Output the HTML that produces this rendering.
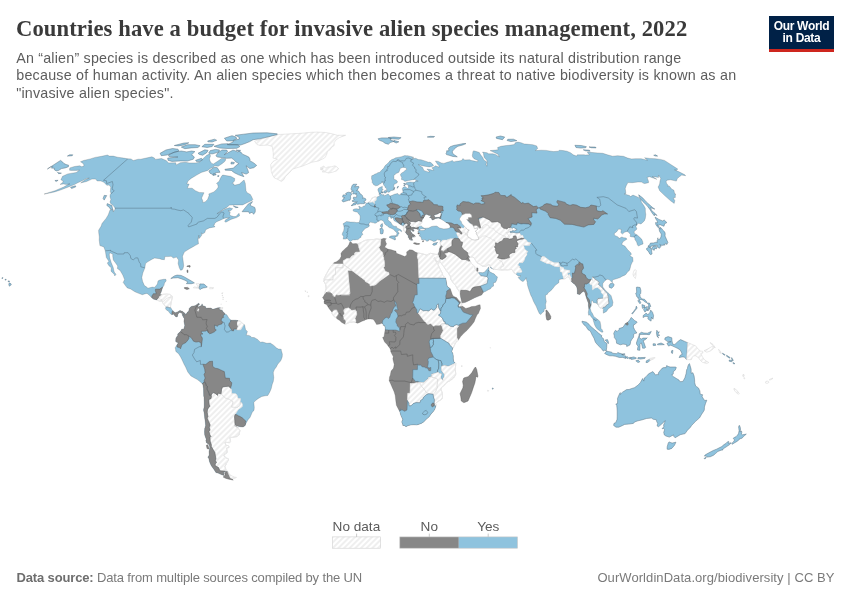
<!DOCTYPE html>
<html lang="en"><head><meta charset="utf-8"><title>Countries have a budget for invasive alien species management, 2022</title>
<style>
html,body{margin:0;padding:0;background:#fff}
body{width:850px;height:600px;position:relative;overflow:hidden;font-family:"Liberation Sans",Arial,sans-serif}
.t{position:absolute;white-space:nowrap;margin:0;padding:0}
#title{left:16px;top:15.2px;font-family:"Liberation Serif","Times New Roman",serif;font-weight:700;font-size:22.6px;line-height:28px;color:#3a3a3a;letter-spacing:0.116px}
.sub{left:16.2px;font-size:14.3px;line-height:18px;color:#5d5d5d;letter-spacing:0.2px}
#s1{top:48.5px}#s2{top:66.3px;letter-spacing:0.237px}#s3{top:84.1px}
#logo{position:absolute;left:769px;top:16px;width:65px;height:36px;background:#002147;border-bottom:0;box-sizing:border-box;color:#fff;font-weight:700;font-size:12px;line-height:11.9px;text-align:center;letter-spacing:-0.3px;padding-top:4.7px}
#logo:after{content:"";position:absolute;left:0;right:0;bottom:0;height:3px;background:#ce261e}
.lg{font-size:13.6px;line-height:16px;color:#5b5b5b;top:518.5px}
.ft{font-size:13px;line-height:16px;color:#7a7a7a;top:570px}
</style></head><body>
<div id="title" class="t">Countries have a budget for invasive alien species management, 2022</div>
<div id="s1" class="t sub">An “alien” species is described as one which has been introduced outside its natural distribution range</div>
<div id="s2" class="t sub">because of human activity. An alien species which then becomes a threat to native biodiversity is known as an</div>
<div id="s3" class="t sub">"invasive alien species".</div>
<div id="logo">Our World<br>in Data</div>
<svg width="850" height="600" viewBox="0 0 850 600" style="position:absolute;left:0;top:0">
<defs><pattern id="h" patternUnits="userSpaceOnUse" width="4" height="4" patternTransform="rotate(-45 2 2)"><rect x="-1" y="-1" width="6" height="6" fill="#fff"/><path d="M-1,2l6,0" stroke="#d3d3d3" stroke-width="0.72"/></pattern>
<path id="o1" d="M80.5,161.8L83.5,160.5L90.2,158.9L95.1,157.4L101.5,156.3L107.5,155.0L109.2,156.1L113.3,156.1L117.5,157.2L123.8,158.1L127.8,158.8L131.0,158.9L133.3,160.5L138.2,159.2L140.7,159.2L147.3,157.8L151.9,156.8L154.5,158.1L155.0,159.4L161.5,158.5L166.1,160.5L168.7,162.9L175.7,162.7L176.2,164.9L180.3,162.7L185.4,162.3L189.1,162.9L195.9,162.9L200.0,162.0L202.4,159.2L206.7,155.3L209.7,153.8L210.5,155.9L209.5,158.7L210.0,161.1L211.7,163.4L213.4,164.0L219.1,160.3L221.3,158.5L225.8,158.7L225.2,161.1L222.4,163.4L218.2,166.3L214.2,165.8L213.2,167.2L210.2,168.6L207.8,170.4L201.2,172.5L196.7,175.1L191.1,178.4L188.0,181.0L186.8,183.9L189.1,184.1L187.3,188.2L192.1,188.2L195.4,190.7L199.2,192.4L204.0,192.7L201.6,198.1L202.7,200.6L202.8,202.4L205.1,201.9L207.6,199.4L209.1,195.6L208.8,193.9L213.8,191.9L216.6,189.5L218.3,187.0L217.7,184.6L216.5,183.4L219.4,181.0L220.2,178.6L222.0,175.5L223.1,175.1L227.2,175.8L230.6,176.3L232.0,177.0L234.8,178.6L234.5,181.0L232.3,183.4L233.9,183.9L234.2,185.3L239.4,184.1L242.8,181.0L244.1,180.0L245.3,183.4L245.6,187.0L246.0,190.7L247.1,192.7L250.3,194.4L251.5,196.4L252.8,199.4L252.0,200.6L248.5,202.1L242.6,204.9L236.6,204.9L229.6,205.1L226.7,207.4L223.0,209.4L218.8,212.5L216.9,213.8L221.3,211.2L225.2,208.9L229.6,207.7L232.7,208.7L230.6,210.7L228.0,210.7L230.2,212.0L229.6,215.0L231.0,215.8L233.8,216.6L235.9,216.6L239.0,213.3L239.6,215.8L236.6,217.6L230.9,219.4L225.9,222.2L224.7,221.5L225.6,219.7L229.4,217.6L226.2,217.9L224.0,218.4L220.3,220.2L216.7,221.7L214.6,223.5L214.5,224.6L213.4,225.3L215.1,226.6L214.3,227.1L212.1,227.4L209.4,227.9L205.7,229.7L204.8,232.6L202.4,234.1L201.5,232.8L201.7,235.2L199.9,237.8L198.7,238.8L198.9,235.2L198.0,239.1L198.5,243.8L195.9,245.1L192.3,247.2L189.5,248.7L187.0,250.3L184.3,252.1L182.5,256.3L183.2,261.3L183.7,265.7L183.1,268.3L182.1,269.9L180.5,270.2L179.3,267.8L178.1,263.4L178.6,260.0L176.5,257.1L173.4,258.1L171.2,256.3L167.8,256.6L164.9,256.6L164.4,259.7L161.6,259.4L159.6,258.7L154.6,258.1L152.1,259.2L147.7,261.8L145.5,263.6L144.8,268.1L142.8,273.0L141.8,277.5L142.6,281.4L144.4,285.6L146.7,287.1L147.9,288.2L152.4,287.1L154.6,287.4L157.4,284.0L158.0,280.9L159.7,280.1L163.7,279.3L165.9,279.3L166.2,280.9L164.5,282.9L164.0,285.3L162.6,287.4L161.8,290.0L160.8,293.1L159.7,294.2L161.0,294.7L162.9,294.4L166.3,294.2L169.7,294.4L172.1,296.0L172.5,296.5L171.3,301.8L170.6,305.7L170.5,307.2L171.9,309.6L173.0,310.9L175.2,312.7L177.5,311.9L179.9,310.6L182.2,311.2L184.6,313.0L183.3,316.9L182.2,314.8L182.7,313.8L179.8,312.3L177.9,314.0L177.5,316.6L176.1,316.9L174.6,315.6L173.5,314.0L171.9,314.8L170.3,313.8L167.9,310.6L167.0,310.6L165.5,308.8L165.9,307.0L164.2,304.9L162.2,302.0L162.3,301.0L159.9,301.2L156.6,299.9L153.3,299.1L151.8,297.8L149.1,295.0L147.0,293.4L145.4,293.7L142.3,294.7L138.0,293.1L134.9,291.8L130.6,289.0L127.3,287.9L125.8,286.1L123.2,282.4L124.6,279.6L122.8,275.1L120.1,270.4L117.4,268.6L117.7,266.0L115.4,262.8L113.3,260.0L112.7,256.1L112.8,254.2L109.8,252.7L109.3,254.7L109.8,258.1L111.2,262.6L112.3,265.2L113.3,267.8L113.9,270.9L114.5,272.5L116.0,274.3L114.8,275.9L114.2,274.3L111.0,271.2L111.3,267.8L108.9,265.7L107.3,263.1L108.9,261.3L106.3,257.4L105.6,252.7L105.2,250.6L103.8,246.9L99.9,245.6L99.2,240.1L99.3,237.0L98.7,232.6L98.6,230.2L101.2,226.1L102.0,223.5L106.1,218.4L108.2,215.0L110.1,209.7L113.4,209.9L113.1,212.0L114.8,209.9L115.0,208.2L114.7,207.4L113.2,205.6L110.7,203.6L110.0,201.9L110.9,199.4L110.0,196.9L110.1,194.9L111.1,193.1L110.3,191.9L110.5,189.5L110.8,187.0L108.9,185.1L106.8,185.3L103.9,182.2L100.9,181.0L97.2,181.0L95.6,179.1L91.9,179.1L86.6,181.5L80.7,182.9L85.1,179.8L89.3,178.1L86.1,178.6L81.6,181.0L77.8,182.7L74.4,184.6L68.4,187.0L60.5,190.0L54.6,191.9L49.5,193.1L44.0,194.1L49.3,192.4L55.0,190.7L63.7,187.0L68.8,184.1L70.0,183.9L66.1,184.4L63.5,183.9L60.1,184.4L63.0,182.2L63.1,181.0L60.9,179.8L62.0,177.4L62.5,176.3L67.7,173.9L71.8,173.2L76.2,172.5L79.5,170.2L76.2,170.4L71.1,170.4L69.5,170.2L69.8,167.9L74.4,166.5L79.7,165.8L81.9,166.8L84.0,165.8L83.8,164.7L83.1,163.4Z"/><clipPath id="c1"><use href="#o1"/></clipPath><path id="p1_0" d="M157.6,299.1L158.0,295.2L161.4,293.4L166.5,292.6L173.5,295.2L172.1,307.0L170.6,307.2L169.7,307.6L167.7,307.1L165.9,306.8L164.5,307.2L160.9,303.1L155.8,301.8Z"/><path id="p1_1" d="M163.8,287.1L161.9,287.4L159.8,289.1L155.5,289.2L155.4,290.7L156.3,293.7L153.4,293.7L152.0,295.9L151.6,297.8L150.9,299.7L156.3,300.7L156.4,299.8L158.3,298.0L158.8,296.3L161.3,294.7L163.1,292.6Z"/><path id="p1_2" d="M172.9,310.4L172.0,311.9L171.9,314.8L171.6,316.1L178.4,317.9L185.3,317.9L185.6,312.2L180.0,309.6Z"/><mask id="m1" maskUnits="userSpaceOnUse" x="0" y="0" width="850" height="600"><rect width="850" height="600" fill="#000"/><use href="#p1_0" fill="#fff"/><use href="#p1_1" fill="#000"/><use href="#p1_2" fill="#000"/></mask><path id="o2" d="M184.7,313.1L185.9,314.8L187.1,312.5L188.8,310.9L189.2,308.5L190.9,306.7L192.3,306.2L195.1,305.7L197.0,304.6L198.4,303.2L199.6,304.1L198.9,304.9L197.6,305.7L198.2,307.0L201.5,305.4L202.1,303.8L202.7,305.7L205.4,306.5L206.0,308.3L208.7,308.0L210.8,308.0L212.8,309.3L214.9,308.8L217.9,307.8L220.5,307.8L219.1,308.3L219.4,309.6L222.4,310.6L222.8,311.4L224.6,313.2L225.0,314.0L226.8,314.8L227.9,316.6L228.6,317.9L230.8,320.0L231.3,320.2L235.6,320.2L238.2,320.6L240.4,321.3L242.0,322.9L243.4,324.2L244.5,324.7L245.6,329.7L247.4,331.5L246.2,335.2L249.0,335.4L250.9,336.5L251.8,337.5L254.1,337.5L257.6,339.4L260.3,342.2L262.6,342.0L266.8,343.3L270.3,343.1L273.8,345.4L276.6,348.0L278.4,349.0L281.2,349.3L281.4,350.8L282.4,354.2L282.2,356.9L281.2,359.7L280.5,361.0L278.7,363.1L277.6,364.4L276.3,367.0L274.4,369.6L273.3,372.3L273.4,374.3L273.8,377.5L273.3,381.4L272.3,384.0L271.2,388.7L269.9,391.8L267.8,395.5L265.2,395.8L261.8,396.5L258.4,398.4L255.0,401.0L253.8,402.6L254.3,407.5L254.0,410.4L252.2,412.2L251.2,414.8L250.0,417.4L248.0,419.8L245.8,423.7L245.2,425.5L243.1,427.0L240.2,426.8L236.3,425.7L234.9,424.2L234.8,424.5L235.3,426.1L238.0,427.6L238.4,428.4L239.9,430.5L239.1,434.9L236.9,436.5L232.1,437.4L229.6,437.3L230.4,439.9L230.5,441.7L229.7,442.7L224.9,442.2L225.8,445.3L228.4,445.6L229.1,447.4L226.6,448.1L227.1,451.7L226.9,453.0L223.9,454.6L224.0,456.1L226.5,458.1L228.4,458.7L228.6,460.1L226.4,463.2L226.3,464.0L224.9,466.5L226.0,469.8L227.9,471.7L225.7,471.5L223.5,472.8L223.9,473.7L223.9,475.5L221.1,474.5L218.6,473.3L215.9,472.5L214.0,469.5L211.3,465.8L209.6,462.0L208.7,458.1L207.8,457.4L209.2,455.1L209.0,451.7L209.8,447.9L209.6,446.1L208.5,444.0L206.4,442.7L205.8,440.1L206.3,439.6L204.7,434.9L204.5,431.8L204.7,428.4L205.6,425.8L205.3,421.9L204.7,418.0L204.3,413.8L203.5,410.1L204.2,406.5L204.2,402.3L204.0,397.3L203.7,396.0L203.5,388.5L202.7,384.0L200.1,381.7L197.4,379.6L195.0,378.3L190.9,375.9L187.8,372.0L185.7,367.2L184.2,364.4L181.9,359.5L180.6,356.9L178.6,353.7L175.8,351.4L175.5,349.0L175.1,347.9L176.9,344.8L177.6,344.3L178.3,342.2L177.1,342.5L175.7,341.4L175.9,338.3L176.8,336.7L177.8,335.5L177.7,334.0L178.8,333.1L180.8,331.0L181.7,329.2L183.8,328.9L184.8,325.5L183.9,321.3L184.3,318.7L183.3,316.9Z"/><clipPath id="c2"><use href="#o2"/></clipPath><path id="p2_0" d="M211.1,395.2L211.5,395.8L211.1,398.4L208.7,399.7L209.2,404.4L209.9,406.2L208.4,408.0L207.5,409.9L207.2,412.2L208.0,416.7L207.1,418.0L208.9,421.9L210.2,425.0L209.3,427.6L210.1,430.0L209.0,431.5L209.9,434.9L211.0,436.5L210.0,437.5L210.2,441.2L211.5,445.3L211.1,446.1L212.9,449.2L214.9,452.5L215.4,455.6L215.9,458.7L215.4,460.7L216.5,462.5L215.2,464.0L215.3,465.8L218.5,467.5L219.5,470.0L220.6,470.8L225.5,471.2L227.9,471.7L237.0,481.9L245.6,440.1L239.9,428.4L236.0,425.3L234.9,424.2L234.8,420.6L234.5,416.7L235.0,414.6L237.4,410.9L238.4,409.5L239.9,408.4L242.4,406.6L242.4,404.3L241.8,402.7L240.1,402.4L240.0,405.3L237.8,407.1L236.7,407.5L231.7,406.9L233.2,401.8L229.7,399.4L225.3,397.9L221.1,393.8L218.1,393.2L217.6,395.4L215.3,393.4L213.0,392.6Z"/><path id="p2_1" d="M230.8,388.3L231.6,389.9L231.7,393.4L235.7,393.8L237.0,394.8L237.9,398.2L239.7,398.4L240.5,398.5L240.1,402.4L240.0,405.3L237.8,407.1L236.7,407.5L231.7,406.9L233.2,401.8L229.7,399.4L225.3,397.9L221.1,393.8L221.6,389.4L222.5,387.0L228.4,386.2Z"/><path id="p2_2" d="M204.4,381.8L204.1,380.6L205.2,378.0L204.6,376.4L204.0,374.3L205.1,372.8L204.7,369.1L202.9,364.3L205.8,364.4L209.3,361.6L212.5,361.2L212.6,363.9L212.6,366.3L215.0,368.2L218.0,368.7L220.6,369.9L222.9,371.0L224.3,371.6L225.3,378.1L229.5,378.3L229.6,380.6L231.8,382.7L231.4,385.4L230.7,387.4L230.8,388.3L228.4,386.2L222.5,387.0L221.6,389.4L221.1,393.8L218.1,393.2L217.6,395.4L215.3,393.4L213.0,392.6L211.1,395.2L209.5,395.4L208.4,391.8L206.8,389.0L207.2,386.4L206.0,385.2L205.5,383.4Z"/><path id="p2_3" d="M204.4,381.8L205.5,383.4L206.0,385.2L207.2,386.4L206.8,389.0L208.4,391.8L209.5,395.4L211.1,395.2L211.5,395.8L211.1,398.4L208.7,399.7L209.2,404.4L209.9,406.2L208.4,408.0L207.5,409.9L207.2,412.2L208.0,416.7L207.1,418.0L208.9,421.9L210.2,425.0L209.3,427.6L210.1,430.0L209.0,431.5L209.9,434.9L211.0,436.5L210.0,437.5L210.2,441.2L211.5,445.3L211.1,446.1L212.9,449.2L214.9,452.5L215.4,455.6L215.9,458.7L215.4,460.7L216.5,462.5L215.2,464.0L215.3,465.8L218.5,467.5L219.5,470.0L220.6,470.8L225.5,471.2L227.9,471.7L228.6,473.3L225.0,480.7L208.6,470.8L200.9,440.1L198.7,401.0L199.0,384.3L202.6,383.6Z"/><path id="p2_4" d="M245.8,423.7L245.3,422.4L245.9,421.2L242.2,417.8L239.7,416.3L238.8,416.1L236.8,414.7L235.0,414.6L234.5,416.7L234.8,420.6L234.9,424.2L234.9,426.1L241.0,428.7L247.1,426.1Z"/><path id="p2_5" d="M174.6,344.6L177.4,344.6L177.0,346.9L179.3,347.5L180.5,348.8L182.0,344.6L185.9,342.5L188.2,339.7L189.0,338.2L188.8,336.1L191.3,337.8L193.5,341.2L196.0,342.1L198.8,341.7L200.9,342.8L201.3,346.7L202.4,338.8L201.9,337.0L200.9,336.2L200.9,334.1L203.0,334.0L201.4,332.9L201.4,331.3L205.9,331.1L207.1,330.1L208.3,332.5L209.6,333.7L211.4,333.3L214.4,331.8L216.3,330.0L214.9,329.2L214.5,325.0L217.5,326.3L218.0,325.1L221.9,323.9L222.6,322.1L221.1,320.2L221.8,318.2L223.8,317.2L222.9,316.0L225.0,313.9L227.0,310.9L220.3,305.7L202.2,301.8L188.3,304.4L180.8,314.8L180.3,330.5L174.5,335.7Z"/><path id="p2_6" d="M230.9,319.5L230.5,321.9L229.1,323.2L228.7,325.3L229.7,327.0L230.6,328.4L232.2,330.6L233.6,330.9L233.6,329.2L235.4,329.0L236.6,329.6L237.5,328.1L238.0,326.3L237.0,323.9L237.2,322.6L238.2,320.7L238.2,319.2Z"/><path id="p2_7" d="M238.2,319.2L238.2,320.7L237.2,322.6L237.0,323.9L238.0,326.3L237.5,328.1L236.6,329.6L238.4,330.0L240.5,330.0L241.3,328.9L243.5,325.1L243.6,324.5L244.3,322.6Z"/><mask id="m2" maskUnits="userSpaceOnUse" x="0" y="0" width="850" height="600"><rect width="850" height="600" fill="#000"/><use href="#p2_0" fill="#fff"/><use href="#p2_1" fill="#fff"/><use href="#p2_2" fill="#000"/><use href="#p2_3" fill="#000"/><use href="#p2_4" fill="#000"/><use href="#p2_5" fill="#000"/><use href="#p2_6" fill="#000"/><use href="#p2_7" fill="#fff"/></mask><path id="o3" d="M349.7,242.2L351.0,242.0L352.7,243.8L356.0,243.5L357.7,244.0L361.2,242.5L362.7,241.4L365.3,240.4L369.2,239.6L373.3,239.6L376.5,239.0L379.3,239.3L381.0,239.2L383.8,238.3L386.4,238.8L385.0,239.9L385.4,240.7L385.7,242.2L386.6,243.8L386.0,245.1L384.6,247.2L386.3,248.0L387.8,249.1L391.4,249.8L394.3,250.8L395.9,251.1L396.4,253.2L399.1,254.2L402.3,255.5L404.8,256.6L406.7,255.0L406.8,254.0L406.6,251.9L409.6,249.8L412.1,250.0L413.2,250.6L415.3,251.9L417.9,253.0L422.5,253.8L426.5,255.1L428.5,254.2L430.8,253.3L433.7,254.1L437.1,254.5L438.0,254.0L439.9,258.7L438.9,263.3L437.3,262.1L436.3,261.0L434.6,257.5L434.2,258.4L435.2,260.2L436.2,261.7L437.9,264.5L439.3,267.5L440.8,270.3L442.3,273.2L442.7,275.4L445.2,277.7L445.8,278.2L446.8,284.5L447.4,286.6L450.3,288.7L452.5,295.0L453.8,296.5L456.6,297.6L459.5,301.2L460.4,301.8L461.2,302.5L461.7,303.1L461.9,304.5L460.6,305.4L461.4,305.4L461.7,305.8L462.3,306.1L465.8,308.4L469.2,307.5L471.5,306.6L475.3,306.2L478.3,304.9L480.1,304.8L480.5,308.4L479.4,310.9L478.4,313.5L477.1,314.8L475.3,318.7L474.2,321.7L471.5,325.3L467.1,330.3L464.0,333.1L460.7,336.6L458.4,340.0L456.8,341.7L455.2,343.0L454.9,344.1L453.9,346.3L452.8,348.0L452.6,349.0L451.8,351.4L452.9,353.6L453.3,356.1L453.3,359.1L453.9,361.8L454.8,362.6L455.3,363.1L455.7,363.6L455.3,369.5L455.7,373.6L455.6,375.0L453.5,378.1L450.1,380.6L446.6,382.4L444.9,384.8L441.5,387.5L441.0,389.5L441.8,391.8L442.3,393.2L442.5,395.8L442.4,398.0L441.8,399.2L438.8,401.0L437.9,401.5L435.5,403.5L436.1,404.4L436.0,405.8L435.0,408.8L433.8,410.9L431.3,413.7L429.2,416.7L426.3,419.3L423.7,421.9L421.3,423.4L418.5,424.4L416.7,425.0L413.6,424.8L410.8,425.0L408.3,425.5L406.0,426.7L404.6,425.7L402.8,425.4L402.7,424.2L401.7,421.9L402.7,419.5L400.8,415.3L399.9,412.1L399.1,410.4L396.4,405.3L395.8,401.0L395.2,395.6L394.1,391.8L392.4,387.9L390.7,384.0L389.2,380.7L389.5,377.0L390.2,375.4L391.1,371.0L393.2,368.6L393.5,368.0L394.2,364.4L393.3,361.0L392.8,358.7L393.3,356.6L392.1,354.6L390.7,351.6L390.6,350.1L390.1,348.8L389.8,348.2L388.1,345.9L387.1,344.6L384.6,342.0L382.6,337.4L384.0,336.7L384.3,334.7L384.6,333.1L385.1,329.7L385.3,328.0L384.5,325.5L383.1,325.3L383.0,323.7L382.1,323.4L381.6,323.2L379.8,324.1L376.6,324.5L375.2,322.1L374.0,320.3L372.9,319.2L370.3,319.0L368.7,319.1L368.0,319.1L366.3,319.5L365.3,319.8L364.8,320.3L362.0,321.2L359.6,322.4L357.7,323.3L355.4,322.4L353.3,322.0L349.8,322.4L348.4,322.8L345.1,324.3L341.8,322.6L339.4,320.3L337.6,319.2L336.0,317.7L333.7,316.1L332.0,313.5L331.9,312.1L331.0,310.9L329.2,308.8L328.1,307.1L326.7,304.8L324.2,303.4L324.0,301.5L324.5,300.6L324.2,300.2L322.5,297.3L323.4,296.5L324.9,293.8L325.4,291.3L326.1,288.4L325.8,285.0L325.1,283.5L323.9,281.4L324.1,279.8L324.3,278.2L326.5,273.8L327.0,273.0L330.0,267.5L331.7,266.0L332.6,264.8L333.8,262.7L336.9,261.5L339.9,258.9L341.2,256.3L340.9,253.4L342.2,251.4L345.9,248.0L347.5,246.8L349.0,244.3Z"/><clipPath id="c3"><use href="#o3"/></clipPath><path id="p3_0" d="M357.7,244.0L358.6,245.9L358.8,247.7L359.9,250.8L359.8,251.9L356.1,251.9L354.6,253.0L354.4,255.0L351.7,256.1L349.9,258.4L346.8,258.4L343.2,260.8L343.2,263.4L343.2,264.4L343.2,264.4L351.7,270.4L365.1,280.6L365.2,281.5L369.8,284.0L370.0,286.1L372.1,285.7L375.5,284.9L379.5,281.3L389.4,274.3L389.4,274.3L388.5,272.2L385.5,271.5L383.5,267.4L384.5,266.5L384.6,263.1L383.6,256.7L382.4,251.9L380.7,250.8L378.9,247.4L380.4,245.3L380.5,242.5L381.0,239.2L375.4,236.5L360.3,240.4Z"/><path id="p3_1" d="M333.1,263.4L343.2,263.4L343.1,267.8L335.6,267.8L335.5,274.5L333.2,275.6L333.1,280.0L324.2,280.0L323.9,281.4L321.8,280.9L324.3,270.4L331.3,262.6Z"/><path id="p3_2" d="M343.2,264.4L351.7,270.4L347.9,270.4L349.0,281.8L350.0,292.6L350.4,293.1L349.7,295.2L341.3,295.2L341.2,294.7L338.1,295.5L336.3,295.0L335.5,296.8L334.6,297.2L333.0,295.9L331.9,293.8L329.9,292.4L328.3,292.2L326.0,292.6L325.0,293.8L322.6,293.9L321.8,280.9L323.9,281.4L324.2,280.0L333.1,280.0L333.2,275.6L335.5,274.5L335.6,267.8L343.1,267.8Z"/><path id="p3_3" d="M417.9,253.0L417.2,256.8L418.0,259.4L418.9,278.2L445.8,278.2L448.1,275.6L441.5,261.3L440.6,258.7L438.5,253.2L428.4,250.8L417.4,251.4Z"/><path id="p3_4" d="M331.9,312.1L333.8,309.8L336.8,309.6L338.1,311.9L338.8,313.5L337.9,315.3L336.0,317.7L333.7,318.7L330.3,313.5Z"/><path id="p3_5" d="M345.1,324.3L345.2,320.6L343.4,319.0L342.9,315.9L344.1,314.3L344.6,313.5L343.7,310.9L344.1,309.1L348.3,307.8L349.8,308.5L351.7,310.4L355.6,309.8L356.3,310.9L356.8,314.3L355.0,318.5L356.1,321.1L355.4,322.4L355.4,325.3L345.2,326.3Z"/><path id="p3_6" d="M418.0,313.0L419.5,310.1L420.1,308.8L423.4,310.8L426.6,310.6L428.9,311.0L430.2,309.6L431.4,308.9L433.2,310.2L434.4,310.1L436.8,307.0L436.7,305.1L438.3,303.8L438.7,307.8L440.4,310.9L440.8,310.9L440.4,313.6L438.4,315.1L440.7,316.6L442.4,318.2L443.8,321.6L445.2,321.9L445.2,323.7L441.8,323.7L440.9,324.7L439.7,325.9L437.2,325.9L435.8,325.8L433.6,326.6L431.6,324.2L430.5,323.6L427.9,324.5L425.7,322.5L423.4,320.0L420.5,316.1Z"/><path id="p3_7" d="M459.1,325.4L456.5,324.7L454.2,325.6L453.6,326.7L450.3,326.3L447.5,324.2L445.6,324.1L445.2,323.7L441.8,323.7L440.9,324.7L442.0,326.6L443.2,330.7L442.1,332.8L440.9,334.9L440.7,335.4L440.7,338.3L449.2,343.5L449.4,344.8L452.8,348.0L455.8,347.5L459.4,340.9L458.3,340.0L457.0,337.9L457.0,328.4Z"/><path id="p3_8" d="M459.6,303.1L458.2,305.7L458.4,307.1L461.0,307.0L461.7,305.8L462.5,305.7L462.8,303.6L461.2,302.5Z"/><path id="p3_9" d="M418.9,278.2L419.1,283.5L416.9,283.5L416.9,284.8L417.3,294.7L414.8,295.0L413.9,298.9L413.3,301.0L412.5,302.7L413.9,304.1L414.2,305.7L415.0,307.1L416.8,309.8L416.9,312.8L418.0,313.0L419.5,310.1L420.1,308.8L423.4,310.8L426.6,310.6L428.9,311.0L430.2,309.6L431.4,308.9L433.2,310.2L434.4,310.1L436.8,307.0L436.7,305.1L438.3,303.8L438.7,307.8L440.4,310.9L440.8,310.9L441.2,308.0L442.7,306.3L443.0,304.9L445.3,302.5L445.9,299.4L446.0,298.4L445.7,296.1L446.7,293.1L446.7,291.0L450.3,288.7L451.0,286.1L448.1,275.6L445.8,278.2Z"/><path id="p3_10" d="M446.0,298.4L448.4,298.4L450.4,298.1L451.8,297.6L454.4,298.0L456.3,299.5L459.6,303.1L458.2,305.7L458.4,307.1L461.0,307.0L460.6,307.8L462.7,311.3L463.6,312.3L470.6,314.8L472.9,314.8L466.1,322.9L462.7,323.2L459.3,324.7L459.1,325.4L456.5,324.7L454.2,325.6L453.6,326.7L450.3,326.3L447.5,324.2L445.6,324.1L445.2,323.7L445.2,321.9L443.8,321.6L442.4,318.2L440.7,316.6L438.4,315.1L440.4,313.6L440.8,310.9L441.2,308.0L442.7,306.3L443.0,304.9L445.3,302.5L445.9,299.4Z"/><path id="p3_11" d="M382.1,323.4L382.8,320.6L385.1,317.9L386.9,317.3L388.5,318.5L389.8,317.2L390.7,313.8L391.9,312.7L392.9,309.5L394.2,307.0L396.0,305.7L395.0,303.4L394.7,301.5L395.7,302.0L396.6,304.0L397.0,307.0L398.1,309.7L395.1,309.7L394.5,310.6L396.9,312.7L398.0,316.1L396.1,319.5L395.8,322.1L397.1,324.5L397.3,326.0L399.6,328.1L399.9,330.0L399.4,331.3L395.9,330.1L393.2,330.0L388.7,330.0L385.1,329.7L383.3,329.7L381.9,325.3Z"/><path id="p3_12" d="M440.7,338.3L432.8,338.5L433.6,341.8L433.0,342.0L433.4,344.3L431.6,347.1L430.2,347.3L430.7,351.4L432.7,355.3L433.2,357.1L436.0,359.3L438.2,360.2L440.4,361.0L440.6,360.5L441.8,363.1L441.9,365.9L444.6,365.6L448.5,366.3L450.8,365.3L455.3,363.1L456.6,361.8L455.7,351.4L454.2,347.5L452.8,348.0L449.4,344.8L449.2,343.5Z"/><path id="p3_13" d="M432.8,338.5L433.6,341.8L433.0,342.0L433.4,344.3L431.6,347.1L430.2,347.3L429.8,345.1L429.4,343.0L429.1,342.0L429.7,340.1L430.8,339.2Z"/><path id="p3_14" d="M433.2,357.1L436.0,359.3L438.2,360.2L438.9,363.9L438.7,368.3L437.3,371.2L438.4,372.3L431.5,374.3L431.9,376.5L428.6,377.2L428.1,378.8L425.3,380.9L423.9,382.6L421.3,382.4L419.9,382.2L417.1,381.3L415.7,381.7L412.7,378.0L412.9,369.6L417.4,369.6L417.6,364.2L418.5,365.2L420.6,364.9L422.1,366.8L424.4,367.0L425.5,367.8L427.6,368.2L428.9,370.7L430.7,370.8L430.8,367.4L428.9,368.1L427.6,366.8L428.2,363.6L428.3,361.2L427.7,360.0L428.9,357.9Z"/><path id="p3_15" d="M438.2,360.2L440.6,360.5L441.8,363.1L441.9,365.9L441.3,367.6L441.6,370.7L444.5,374.6L444.1,377.5L443.0,378.0L442.9,380.4L440.9,378.3L441.0,376.4L441.6,373.8L439.5,373.6L438.4,372.3L437.3,371.2L438.7,368.3L438.9,363.9Z"/><path id="p3_16" d="M455.3,363.1L450.8,365.3L448.5,366.3L444.6,365.6L441.9,365.9L441.3,367.6L441.6,370.7L444.5,374.6L444.1,377.5L443.0,378.0L442.9,380.4L440.9,378.3L441.0,376.4L441.6,373.8L439.5,373.6L438.4,372.3L431.5,374.3L431.9,376.5L431.9,377.5L433.9,377.5L437.6,379.3L437.5,382.7L436.8,385.3L437.4,387.4L436.1,389.5L435.8,391.5L433.1,394.2L433.5,397.1L434.4,399.7L434.1,403.5L434.3,404.1L434.0,405.8L436.0,405.8L438.4,406.2L445.7,398.4L444.1,387.9L458.3,377.5L458.9,363.1Z"/><path id="p3_17" d="M419.9,382.2L421.3,382.4L423.9,382.6L425.3,380.9L428.1,378.8L428.6,377.2L431.9,376.5L431.9,377.5L433.9,377.5L437.6,379.3L437.5,382.7L436.8,385.3L437.4,387.4L436.1,389.5L435.8,391.5L433.1,394.2L428.7,393.7L428.1,393.7L425.8,392.0L425.1,390.8L424.1,389.2L421.9,386.8L420.0,384.3Z"/><path id="p3_18" d="M407.4,400.4L407.7,393.2L409.9,393.2L410.2,383.5L415.5,382.7L417.5,382.7L419.9,382.2L420.0,384.3L421.9,386.8L424.1,389.2L425.1,390.8L425.8,392.0L428.1,393.7L428.7,393.7L426.3,394.7L423.3,397.5L422.9,399.0L420.7,400.3L419.9,402.7L416.1,402.6L413.3,403.5L411.0,405.8L409.0,405.8L408.9,403.3Z"/><path id="p3_19" d="M399.1,410.4L401.2,410.6L400.5,409.0L404.7,411.3L407.0,409.9L407.4,400.4L408.9,403.3L409.0,405.8L411.0,405.8L413.3,403.5L416.1,402.6L419.9,402.7L420.7,400.3L422.9,399.0L423.3,397.5L426.3,394.7L428.7,393.7L433.1,394.2L433.5,397.1L434.4,399.7L434.1,403.5L434.3,404.1L434.0,405.8L436.0,405.8L437.1,408.8L430.7,419.3L416.8,428.4L401.6,428.4L396.9,411.4Z"/><path id="p3_20" d="M434.1,403.5L432.6,402.9L431.4,404.6L431.4,405.8L432.4,407.0L434.0,405.8L434.3,404.1Z"/><path id="p3_21" d="M422.4,413.1L424.7,411.0L426.2,410.4L427.7,412.3L427.1,413.8L424.9,414.8L423.0,414.4Z"/><mask id="m3" maskUnits="userSpaceOnUse" x="0" y="0" width="850" height="600"><rect width="850" height="600" fill="#000"/><use href="#p3_0" fill="#fff"/><use href="#p3_1" fill="#fff"/><use href="#p3_2" fill="#fff"/><use href="#p3_3" fill="#fff"/><use href="#p3_4" fill="#fff"/><use href="#p3_5" fill="#fff"/><use href="#p3_6" fill="#fff"/><use href="#p3_7" fill="#fff"/><use href="#p3_8" fill="#fff"/><use href="#p3_9" fill="#000"/><use href="#p3_10" fill="#000"/><use href="#p3_11" fill="#000"/><use href="#p3_12" fill="#000"/><use href="#p3_13" fill="#000"/><use href="#p3_14" fill="#000"/><use href="#p3_15" fill="#000"/><use href="#p3_16" fill="#fff"/><use href="#p3_17" fill="#fff"/><use href="#p3_18" fill="#fff"/><use href="#p3_19" fill="#000"/><use href="#p3_20" fill="#000"/><use href="#p3_21" fill="#000"/></mask><path id="o4" d="M350.9,241.3L350.4,241.7L348.9,240.4L347.5,238.6L346.6,238.6L345.5,239.1L343.2,239.1L343.6,236.5L342.8,235.4L342.2,234.4L342.5,233.0L343.6,230.9L344.1,228.3L343.9,226.4L343.8,225.8L343.0,223.8L345.0,222.5L346.5,221.5L350.6,222.1L354.6,222.2L356.2,222.6L358.7,222.5L359.3,222.2L360.0,219.3L360.2,217.0L360.0,215.4L358.4,213.8L358.0,212.6L356.8,212.0L356.2,212.0L353.7,211.2L353.0,210.6L352.9,209.8L354.4,208.9L356.4,208.7L358.5,209.1L359.5,209.1L359.3,207.7L358.6,206.4L360.0,206.4L360.3,207.3L362.0,207.4L362.7,206.9L362.9,206.4L364.7,205.8L365.6,205.1L365.7,203.7L366.2,203.2L367.3,203.0L367.6,202.9L368.3,202.5L369.1,202.2L369.5,202.0L370.0,201.1L370.6,200.6L371.4,199.4L371.8,198.2L373.1,197.6L374.2,197.1L376.2,197.0L376.6,197.4L378.1,196.4L378.7,196.6L379.4,195.9L379.8,195.4L379.1,194.6L379.2,193.4L378.6,191.9L378.0,190.7L377.9,189.2L378.8,188.0L381.2,186.8L382.4,186.4L382.3,187.8L382.1,189.2L383.3,189.6L382.1,190.3L381.7,191.9L381.2,192.7L380.7,193.5L381.8,194.4L382.2,194.8L383.8,194.6L383.7,195.7L384.8,195.6L386.0,195.3L386.7,194.5L388.4,194.1L389.3,195.4L390.1,195.9L390.9,195.7L392.7,195.1L394.4,194.3L396.4,193.8L397.8,193.5L398.6,194.8L400.1,194.8L400.5,194.5L400.9,193.3L402.0,193.1L402.9,192.4L402.9,191.4L402.7,190.5L402.4,189.5L402.4,188.2L403.2,187.3L405.0,186.4L406.3,187.4L407.4,188.3L408.1,188.1L408.5,187.5L408.3,186.1L408.3,185.0L406.8,184.8L406.4,184.4L406.2,183.5L406.0,182.9L407.0,182.4L408.3,182.3L410.2,182.0L412.3,182.2L414.4,182.3L415.1,181.5L415.9,181.0L418.2,181.1L415.8,180.5L415.0,179.3L413.4,179.7L411.9,179.9L408.4,180.6L404.9,181.4L403.2,180.0L401.5,179.6L401.5,178.4L401.7,177.3L401.0,176.3L400.4,174.8L400.9,173.7L402.2,172.7L403.5,171.9L405.1,170.4L407.0,169.3L405.2,167.5L404.5,167.4L402.5,167.5L401.2,168.0L400.1,168.6L399.8,170.0L398.9,172.2L396.9,173.2L396.0,173.3L395.3,174.4L394.7,174.8L393.8,175.4L393.9,177.0L393.9,178.6L394.0,179.4L395.1,179.6L396.7,180.5L397.4,181.2L397.2,182.7L395.9,183.6L394.2,184.2L393.8,185.8L393.9,186.4L393.7,188.2L393.6,189.1L393.0,190.4L392.3,190.3L390.6,190.7L389.9,191.8L389.0,192.2L387.8,192.3L387.3,191.8L386.7,190.6L386.3,190.0L386.9,189.1L385.6,188.0L384.9,186.5L383.6,185.0L383.2,183.3L382.2,182.3L382.2,181.2L381.8,182.7L381.1,183.4L380.0,183.8L378.9,184.7L377.5,185.5L375.7,185.8L373.7,184.8L372.9,183.5L372.1,182.4L372.3,181.0L371.9,180.0L371.5,178.6L371.6,177.2L371.7,175.8L373.5,175.1L375.0,174.0L376.3,173.7L377.8,172.7L379.6,172.3L380.2,172.0L381.2,170.6L382.2,169.6L383.5,168.6L383.8,168.1L384.3,167.0L385.2,165.6L387.1,164.0L388.5,162.5L389.5,161.8L389.5,161.1L390.3,160.7L391.7,159.6L394.0,158.8L395.6,157.8L398.0,157.4L401.5,156.7L404.7,155.6L406.7,155.8L407.8,155.7L411.0,156.5L413.8,157.3L411.9,158.0L412.5,158.6L413.8,158.5L415.6,158.3L418.5,159.6L421.1,159.8L424.8,160.9L428.6,162.3L429.9,162.1L431.4,163.1L432.7,164.3L433.6,165.6L431.7,166.5L429.2,166.9L424.7,166.2L422.0,165.7L418.2,164.5L420.3,166.1L422.6,167.4L423.5,169.4L423.8,170.4L425.2,170.9L428.1,171.9L429.9,171.8L428.3,170.6L426.9,169.0L430.1,169.6L432.9,170.3L433.8,170.3L432.2,168.1L431.8,167.9L434.4,166.8L435.3,165.8L438.8,167.0L439.2,167.2L438.8,165.6L437.5,164.3L435.4,161.0L438.4,161.4L441.2,162.9L443.9,163.4L445.0,163.1L447.2,162.3L450.2,161.4L452.3,160.5L453.9,162.0L455.3,161.4L458.5,161.1L461.6,160.5L463.0,158.5L464.5,160.0L469.6,159.8L471.6,160.5L474.5,161.1L477.5,161.8L478.0,160.5L474.0,158.7L472.6,157.0L472.3,155.3L472.8,153.1L472.8,151.9L473.6,150.8L476.6,151.6L479.3,152.5L480.6,154.8L482.4,157.0L484.1,160.3L486.7,161.8L486.0,164.7L486.9,166.3L487.0,163.6L487.3,161.4L486.5,160.0L484.2,157.4L483.7,155.3L483.5,153.5L482.5,152.1L487.0,152.7L488.6,153.8L492.7,153.8L495.6,154.4L499.3,157.0L497.9,154.2L490.1,150.6L498.1,149.8L497.6,147.5L501.0,146.3L506.3,145.5L509.2,145.3L514.4,144.5L515.2,142.8L517.9,142.1L521.2,142.8L524.2,143.9L526.0,144.1L532.8,144.7L536.7,145.9L537.7,148.5L535.3,150.6L541.2,150.2L546.2,150.4L551.1,151.2L553.7,151.6L558.3,151.2L559.3,150.2L563.1,150.6L567.0,151.2L570.5,152.7L573.2,154.8L576.5,156.1L577.3,154.8L578.9,154.8L583.8,154.8L585.7,155.0L589.5,154.8L587.7,152.9L587.5,152.0L590.0,152.3L597.4,152.9L602.8,153.3L607.4,154.8L612.7,156.2L617.6,155.7L623.5,156.3L627.7,158.1L631.5,158.9L635.3,158.7L641.1,158.7L647.6,160.3L644.6,157.8L649.8,158.4L655.3,158.7L660.5,159.4L664.5,160.4L677.8,169.1L676.6,170.2L674.4,169.8L678.6,171.6L684.9,174.8L685.7,175.7L681.7,175.1L679.4,176.7L677.3,178.6L676.4,181.1L670.5,179.8L667.3,180.2L666.0,181.4L666.6,183.4L668.4,185.8L667.9,186.5L669.5,186.3L671.6,189.0L673.9,190.2L674.5,193.1L675.5,194.4L675.4,193.8L675.3,197.6L673.2,198.1L674.8,200.6L674.2,203.4L670.3,200.6L664.7,195.6L659.7,190.7L658.1,187.0L659.2,185.1L659.7,183.4L660.0,181.0L660.8,178.6L658.5,175.1L658.5,177.4L652.3,176.5L656.8,179.3L649.5,176.7L647.1,177.4L648.6,181.5L648.5,182.7L645.2,183.4L644.1,183.6L641.5,182.1L638.0,182.0L632.3,182.7L627.9,182.6L626.2,185.8L625.2,188.7L625.4,189.6L625.9,193.6L624.2,193.9L629.6,195.6L630.4,196.6L633.0,195.1L638.5,197.4L641.1,200.1L641.3,201.9L643.8,205.6L645.3,208.2L645.4,212.0L645.8,214.5L645.3,218.4L644.3,220.9L641.0,224.0L638.3,223.3L637.2,224.6L637.0,225.3L636.4,225.3L635.9,226.6L637.0,229.0L634.0,231.7L634.5,233.4L637.2,234.9L639.5,237.1L641.6,239.1L642.7,241.6L643.1,244.0L641.0,244.7L638.4,246.1L637.4,244.8L636.6,242.0L634.9,239.6L634.9,237.9L633.5,237.1L630.9,236.7L630.0,236.2L630.6,234.7L628.6,232.3L627.0,231.4L624.5,232.3L622.4,234.1L620.8,232.6L621.4,229.5L618.6,229.0L616.9,231.5L614.4,233.4L614.2,233.9L614.7,235.4L618.2,237.0L618.9,238.6L621.8,237.0L623.6,237.7L626.2,238.0L626.8,239.3L623.2,241.6L621.8,244.0L622.1,244.8L624.9,246.1L627.5,249.5L630.9,252.9L631.4,254.2L629.9,255.8L632.8,257.6L633.0,261.3L631.9,262.8L630.7,265.7L630.3,267.8L629.4,270.4L627.8,271.7L625.9,274.3L625.3,274.9L621.8,276.4L620.2,277.5L618.7,278.0L615.5,279.0L612.9,279.8L612.4,280.6L612.3,282.7L610.9,281.1L609.0,279.6L607.2,279.3L606.5,279.6L604.2,281.6L602.7,283.7L602.8,286.9L604.8,289.7L607.7,292.4L609.2,293.7L611.1,295.7L612.3,299.7L613.0,302.5L612.7,303.7L612.4,305.7L610.5,307.2L608.3,308.7L607.5,310.1L606.5,311.4L603.3,313.2L603.3,310.1L603.8,309.6L602.3,308.5L601.6,308.1L600.0,308.0L598.7,306.2L598.4,305.4L597.4,303.8L595.0,302.7L593.6,302.7L592.4,300.4L591.4,301.0L591.4,302.9L591.3,304.9L590.2,308.3L591.1,311.4L592.6,313.8L594.0,316.9L595.6,317.7L597.5,319.4L598.0,319.5L600.1,321.7L600.8,325.8L601.0,328.4L602.0,329.4L603.1,332.0L601.9,332.3L601.0,331.8L598.3,330.0L596.3,327.9L594.8,325.3L593.6,321.6L593.0,319.0L591.9,317.7L590.9,316.4L589.9,314.8L588.6,315.2L588.3,312.2L588.9,309.6L588.4,305.7L588.4,303.3L586.8,299.1L585.8,295.9L584.9,292.6L583.4,291.3L581.7,292.4L579.9,294.6L577.3,293.9L577.3,290.0L576.7,286.9L574.7,284.3L572.9,283.1L571.4,281.6L570.4,279.8L569.6,277.5L567.7,276.7L566.9,277.2L565.7,278.5L563.7,278.9L561.7,279.0L559.1,279.6L558.8,282.7L557.0,284.0L555.3,285.3L552.0,289.5L549.9,291.4L547.8,293.1L547.5,294.2L545.5,295.2L545.6,298.1L546.3,301.5L545.5,304.6L545.8,308.8L544.3,309.1L544.0,311.4L542.2,312.7L540.8,314.6L539.3,313.5L537.6,309.7L536.2,306.3L533.8,302.0L531.8,297.1L530.9,295.5L529.4,291.3L527.7,286.1L527.2,283.5L527.3,282.4L526.7,280.6L526.1,277.7L525.6,278.9L523.2,281.5L521.6,281.1L519.7,279.2L518.1,277.6L519.7,276.9L520.9,275.8L518.8,276.2L516.8,274.9L516.0,273.8L514.3,273.3L513.8,272.2L512.8,270.9L511.8,269.4L507.4,269.9L504.9,269.8L502.3,270.0L500.7,269.9L498.4,269.6L494.8,269.4L492.0,268.7L490.6,267.8L489.6,264.9L488.2,264.8L486.5,265.8L485.3,266.4L482.1,266.0L479.9,264.3L477.0,262.8L475.4,260.1L473.9,257.6L472.1,257.1L470.1,257.5L468.7,257.4L469.0,259.1L470.1,261.1L471.3,263.4L473.3,265.2L474.8,266.6L475.0,268.8L476.6,271.1L476.3,269.1L476.7,267.7L477.3,267.4L478.1,268.3L478.3,270.4L477.7,271.5L478.5,272.4L480.8,272.5L482.8,272.8L484.7,271.9L486.6,269.8L488.0,268.3L488.6,266.9L488.9,268.8L488.9,270.2L490.0,272.1L494.4,274.1L495.5,275.6L497.4,276.9L496.8,279.8L495.6,282.2L493.4,282.9L493.5,286.1L491.5,287.1L490.5,288.8L488.3,289.7L485.7,291.3L483.5,292.2L481.6,295.0L478.9,296.1L474.7,297.8L472.3,299.1L468.9,300.7L465.5,302.3L463.3,302.8L462.0,302.7L461.5,301.0L460.6,297.1L460.1,294.2L460.1,292.9L459.4,291.6L457.3,288.7L455.8,285.8L453.1,282.7L451.0,279.6L450.4,277.2L450.4,276.2L448.1,272.8L446.0,270.2L444.1,267.1L442.0,264.4L440.7,262.4L439.6,262.4L440.1,258.7L439.9,258.7L438.0,254.0L438.4,253.4L438.9,252.0L439.3,250.0L439.4,249.3L440.0,247.2L440.5,245.7L440.8,245.2L440.1,243.0L440.3,241.8L440.6,240.1L439.3,240.1L437.2,239.6L435.8,240.9L433.6,241.6L431.7,240.4L428.7,239.5L428.5,240.9L426.8,241.3L425.3,240.0L423.5,239.6L421.7,239.9L421.6,239.1L421.0,237.5L421.0,236.9L418.9,235.7L419.9,235.3L419.8,233.9L419.5,233.1L418.0,232.6L418.2,231.3L418.6,230.9L419.8,230.2L421.8,230.4L424.0,230.2L425.8,229.3L423.9,228.7L424.1,228.2L425.0,228.2L426.5,228.2L428.8,227.9L429.6,227.5L431.6,226.5L433.5,226.2L436.4,226.0L438.3,226.9L439.3,227.9L440.7,228.3L442.7,228.7L443.8,228.9L446.5,228.7L448.1,228.6L449.9,227.7L450.1,227.3L450.3,227.0L450.0,225.7L448.3,223.5L446.0,222.5L445.3,222.0L443.7,220.7L440.8,219.1L439.7,218.6L438.1,217.9L438.2,217.3L439.7,217.5L440.4,215.8L440.9,215.7L440.9,214.0L441.8,212.7L442.9,212.7L440.5,213.0L439.1,213.0L437.8,213.9L435.1,214.8L433.9,215.4L435.3,217.5L437.8,217.3L437.7,218.2L435.7,218.4L434.9,218.9L433.3,219.7L432.5,219.9L431.8,219.4L431.4,217.9L429.5,217.5L431.5,215.7L430.1,215.6L427.7,215.0L427.1,214.3L425.5,214.5L424.6,216.2L423.7,217.5L423.8,218.0L422.5,219.0L422.0,220.6L422.0,221.6L421.9,222.6L420.9,223.0L420.2,224.8L421.4,226.1L421.6,226.5L424.0,228.1L423.7,228.7L421.7,228.7L420.7,228.8L419.9,229.7L419.1,230.2L418.2,231.2L419.3,229.7L417.7,229.5L417.3,229.1L415.4,228.8L414.1,228.8L413.1,229.3L414.3,230.9L412.9,231.4L412.0,230.6L411.1,230.0L410.4,230.1L410.5,231.3L411.3,232.3L412.3,233.4L411.7,234.1L410.8,234.3L413.0,235.2L414.1,236.5L414.1,237.4L413.2,236.6L411.9,236.7L412.3,238.0L411.4,237.7L412.4,239.6L412.6,240.5L411.7,239.6L411.1,240.7L410.3,239.1L409.3,239.6L408.9,237.8L407.8,236.9L409.0,235.8L408.1,235.6L407.4,234.9L406.7,234.0L405.5,232.3L405.1,232.1L405.0,231.6L403.6,230.1L403.6,227.9L403.6,227.1L403.3,226.5L402.7,225.8L401.3,225.1L400.4,224.4L399.1,223.7L398.9,223.4L396.8,222.2L395.6,221.6L394.1,220.7L393.4,219.1L393.3,218.4L392.3,217.6L391.8,218.1L391.2,218.8L390.5,217.6L390.4,217.1L390.8,216.7L390.3,216.4L389.5,216.7L388.0,217.2L388.3,218.5L388.0,219.8L388.7,220.8L390.6,222.0L391.6,223.7L392.3,224.9L394.1,226.2L396.6,226.4L396.0,227.1L398.1,228.4L400.5,229.6L401.8,230.9L401.5,231.8L400.8,231.2L399.1,230.1L397.9,231.2L397.6,232.1L399.0,232.7L399.1,233.8L398.0,234.4L398.0,235.4L397.0,236.7L396.1,236.2L396.4,234.7L397.1,234.1L396.6,232.8L396.0,231.4L395.0,231.3L393.8,229.6L392.7,229.1L391.1,228.2L389.7,227.8L389.1,227.5L388.2,226.8L387.3,225.8L385.8,225.1L384.5,223.7L384.0,222.1L383.0,220.8L381.0,219.9L380.1,220.2L379.2,221.3L378.1,221.5L377.6,221.7L377.1,222.1L376.4,222.9L374.9,223.3L373.7,222.8L372.1,222.6L370.6,222.1L370.2,222.5L369.0,223.3L368.9,224.6L369.2,225.0L369.4,225.3L369.1,226.5L367.1,227.7L365.1,228.4L364.3,229.5L362.5,231.4L361.9,232.7L362.9,234.5L361.4,235.6L360.9,236.9L361.0,237.4L360.3,237.5L359.1,238.6L357.8,239.8L357.2,239.5L354.9,239.9L353.0,239.8L351.9,240.4Z"/><clipPath id="c4"><use href="#o4"/></clipPath><path id="p4_0" d="M440.3,241.8L440.8,242.1L441.8,241.0L442.6,240.0L446.7,239.9L450.2,238.8L453.8,238.8L460.0,241.7L470.7,254.7L473.6,260.0L483.4,267.8L492.4,267.8L500.2,278.2L488.3,299.1L465.7,305.7L461.0,303.1L456.0,293.9L446.0,278.2L438.3,263.9L438.4,258.7L437.2,253.7L438.0,248.2L439.3,244.3Z"/><path id="p4_1" d="M470.2,257.6L466.2,254.7L460.8,246.9L458.7,240.4L459.0,238.7L457.4,235.4L456.4,233.0L457.2,232.8L457.9,232.1L456.9,230.0L457.5,227.9L461.1,227.9L460.2,226.4L462.4,227.9L463.7,228.2L464.6,226.4L467.1,223.5L473.0,226.8L476.9,220.9L485.8,215.8L499.8,220.9L508.5,222.2L513.1,223.5L519.0,228.7L519.5,232.7L520.8,235.2L522.8,235.3L523.8,238.4L523.3,239.0L524.6,239.1L526.4,240.1L527.6,242.1L531.3,243.0L529.9,244.0L529.8,245.2L527.0,245.5L523.5,245.2L524.1,246.9L524.6,249.0L525.7,250.0L526.5,250.8L528.0,251.4L526.6,252.9L527.1,254.6L526.1,256.1L525.1,257.5L524.4,260.0L522.7,262.7L519.3,262.6L517.7,265.2L519.7,266.2L519.5,267.9L520.7,268.6L522.1,272.0L519.9,272.5L517.0,272.2L516.0,273.8L513.8,278.2L501.9,273.0L491.6,270.4L489.0,266.1L485.7,267.8L479.8,265.7L474.4,261.0L471.8,258.7Z"/><path id="p4_2" d="M369.1,202.2L371.0,202.2L372.4,202.0L374.1,202.7L373.9,203.7L374.6,203.7L374.4,202.6L374.7,201.0L375.9,200.7L376.4,199.6L376.3,199.0L376.6,197.4L376.1,195.6L370.3,196.9L368.4,201.6Z"/><path id="p4_3" d="M409.6,220.4L410.4,221.5L413.5,221.6L415.6,221.9L418.6,220.7L422.0,221.6L424.0,222.2L423.5,226.4L421.4,226.1L419.3,226.0L418.0,226.9L417.6,227.8L415.9,228.0L413.5,227.3L410.8,227.8L411.0,226.8L409.4,225.3L410.6,223.1L409.2,221.7Z"/><path id="p4_4" d="M403.3,226.5L403.7,224.7L404.6,224.7L405.6,225.6L405.9,226.5L405.8,227.8L406.8,229.1L406.4,230.5L405.5,232.2L405.1,232.1L402.9,231.8L402.1,226.6Z"/><path id="p4_5" d="M404.6,224.7L405.1,223.9L406.0,222.9L407.3,223.9L408.1,224.4L407.9,225.5L405.9,226.5L405.6,225.6Z"/><path id="p4_6" d="M540.4,260.5L541.8,256.8L544.1,256.4L549.4,260.4L554.1,262.8L558.9,262.8L559.7,266.8L557.1,266.8L554.3,266.2L550.1,263.9L546.9,263.4L542.7,261.5Z"/><path id="p4_7" d="M563.7,278.9L562.9,275.9L562.0,272.2L560.4,271.7L559.9,268.3L560.2,266.5L563.6,267.8L564.0,269.6L569.9,270.4L569.8,272.5L567.6,272.9L567.8,274.3L568.9,275.8L569.3,274.1L571.6,278.4L571.8,280.1L571.4,281.6L569.6,282.2L563.8,280.9Z"/><path id="p4_8" d="M591.0,279.4L592.6,280.5L592.1,277.1L592.9,277.1L594.9,279.0L597.8,281.1L599.3,282.4L598.3,284.4L601.4,286.9L605.1,291.3L607.5,293.8L608.2,296.5L608.2,297.3L604.8,298.2L602.9,298.2L603.5,295.0L601.2,292.6L600.7,290.0L597.4,287.6L594.6,288.2L592.5,290.0L592.0,284.8L590.4,284.6L589.2,282.6Z"/><path id="p4_9" d="M598.4,305.4L597.3,302.8L597.0,300.2L598.0,298.5L602.9,298.2L604.8,298.2L608.2,297.3L608.9,303.6L606.4,305.1L605.3,307.0L603.6,307.1L602.3,308.5L601.3,309.6L597.7,307.5Z"/><path id="p4_10" d="M407.3,209.7L407.9,207.9L408.5,205.6L410.6,204.2L409.2,201.9L410.0,201.6L412.8,200.9L417.0,201.9L420.6,202.1L423.0,202.4L423.5,200.5L425.2,200.4L429.0,199.7L430.5,201.2L432.9,203.1L433.6,204.6L437.4,204.8L438.6,205.9L441.1,206.0L443.0,206.6L442.8,208.7L443.3,211.1L441.3,211.1L440.5,213.0L441.4,214.5L440.3,219.7L431.2,221.5L426.4,217.1L423.7,217.5L421.8,217.9L420.6,217.2L420.0,213.8L417.8,211.2L416.4,210.1L413.1,211.3L409.0,210.7Z"/><path id="p4_11" d="M404.1,215.6L406.0,214.8L407.3,212.0L409.0,210.7L413.1,211.3L416.4,210.1L417.8,211.2L420.0,213.8L420.6,217.2L421.8,217.9L423.7,217.5L425.6,218.4L424.0,222.2L422.0,221.6L418.6,220.7L415.6,221.9L413.5,221.6L410.4,221.5L409.6,220.4L408.4,219.7L406.8,218.9L406.9,217.9L405.3,216.5Z"/><path id="p4_12" d="M416.4,210.1L418.1,209.6L420.1,210.3L421.8,211.0L422.8,212.4L424.2,214.8L422.0,215.3L422.0,215.9L420.6,217.2L420.0,213.8L417.8,211.2Z"/><path id="p4_13" d="M401.3,216.1L402.7,215.4L404.1,215.6L405.3,216.5L406.9,217.9L406.8,218.9L408.4,219.7L409.6,220.4L409.2,221.7L410.6,223.1L409.4,225.3L407.9,225.5L408.1,224.4L407.3,223.9L406.0,222.9L405.1,223.9L402.7,222.2L403.3,221.1L402.2,220.2L402.5,218.6L401.8,218.8L401.8,217.1Z"/><path id="p4_14" d="M395.1,217.9L397.4,217.7L401.8,218.8L402.5,218.6L402.2,220.2L403.3,221.1L402.7,222.2L401.6,223.0L401.2,224.7L399.4,223.8L398.6,222.4L396.6,220.9L395.1,218.9Z"/><path id="p4_15" d="M405.8,227.8L405.9,226.5L407.9,225.5L409.4,225.3L411.0,226.8L410.8,227.8L410.6,228.3L408.9,228.4L406.8,229.1Z"/><path id="p4_16" d="M405.5,232.2L406.4,230.5L406.8,229.1L408.9,228.4L410.6,228.3L410.8,227.8L413.5,227.3L415.9,228.0L417.6,227.8L418.0,226.9L418.7,227.8L418.1,228.8L417.7,229.5L416.8,232.6L415.9,238.3L413.4,242.0L407.9,240.9L404.1,232.6Z"/><path id="p4_17" d="M386.7,204.9L388.4,204.6L390.9,203.0L392.2,203.5L395.0,204.0L396.2,204.6L397.9,204.9L400.4,206.9L398.8,208.2L396.8,209.2L394.8,208.8L392.7,208.2L392.2,209.2L390.4,208.8L388.7,207.4L387.6,206.4Z"/><path id="p4_18" d="M381.9,212.0L382.1,213.1L383.9,213.6L387.3,213.3L387.9,214.0L390.6,214.5L392.3,214.8L395.2,214.0L395.4,213.6L396.1,212.2L397.3,211.5L397.3,210.7L396.8,209.2L394.8,208.8L392.7,208.2L392.2,209.2L390.4,208.8L389.6,209.7L388.4,210.5L389.0,212.0L387.3,211.6L383.8,211.9Z"/><path id="p4_19" d="M374.0,206.8L374.7,205.3L375.5,206.1L375.3,207.0Z"/><path id="p4_20" d="M450.1,227.3L448.8,226.6L447.2,223.5L446.0,222.5L451.3,223.0L454.5,224.6L457.2,224.3L460.2,226.4L461.1,227.9L457.5,227.9L459.0,229.2L460.2,230.8L461.8,232.6L461.9,234.1L460.8,234.1L459.5,232.6L457.9,232.1L455.3,231.0L454.3,228.4L452.3,227.3Z"/><path id="p4_21" d="M439.4,249.3L440.8,245.2L442.3,246.4L441.3,248.2L441.0,248.7L439.9,249.5L438.7,249.0L439.5,244.8Z"/><path id="p4_22" d="M465.8,259.7L467.6,257.4L468.7,257.4L470.3,258.4L471.3,261.5L470.1,261.1L468.6,261.1Z"/><path id="p4_23" d="M438.0,254.0L439.9,258.7L440.6,254.2L440.6,251.1L440.7,250.3L441.0,248.7L439.4,249.3L438.3,250.8L437.2,253.7Z"/><path id="p4_24" d="M440.1,259.1L442.5,259.4L445.5,257.4L446.5,256.1L444.0,253.4L448.3,252.1L448.7,251.7L447.4,248.5L443.4,251.4L440.7,250.3L440.6,251.1L440.6,254.2L439.9,258.7Z"/><path id="p4_25" d="M447.4,248.5L448.7,251.7L451.4,252.4L455.4,254.5L461.7,259.4L465.8,259.7L467.6,257.4L468.7,257.4L470.1,257.5L468.6,256.1L467.8,254.7L467.8,252.7L463.5,249.5L461.6,246.9L462.3,244.3L462.6,242.2L460.8,241.7L459.0,238.7L455.1,238.2L453.8,238.8L452.0,240.4L451.9,242.7L451.9,245.9Z"/><path id="p4_26" d="M460.1,292.9L460.8,290.3L463.1,290.3L465.4,290.3L468.1,290.8L469.5,291.4L470.7,291.0L472.1,288.2L474.0,287.1L480.5,286.1L483.5,292.2L485.7,295.2L472.4,303.1L462.2,304.6L459.1,301.8L458.3,293.9Z"/><path id="p4_27" d="M478.5,272.2L478.5,272.8L481.0,275.8L486.9,276.6L488.1,278.2L487.1,283.5L480.5,286.1L483.5,292.2L488.1,296.5L500.5,280.9L497.4,273.0L489.5,266.1L486.7,267.0L481.4,269.6L479.6,269.6L479.1,271.7Z"/><path id="p4_28" d="M476.6,271.1L476.3,269.1L476.7,267.7L477.3,267.4L478.1,268.3L478.3,270.4L477.7,271.5L477.3,271.7Z"/><path id="p4_29" d="M463.4,214.9L461.8,214.2L462.3,213.1L460.3,211.3L458.2,211.1L456.6,209.7L457.1,207.7L456.6,207.3L457.2,204.9L460.0,205.8L459.8,204.1L463.0,201.5L466.5,201.9L468.5,201.9L471.0,203.1L473.5,204.1L475.7,202.9L479.1,203.0L481.4,204.2L484.7,203.6L484.7,202.4L480.9,200.6L482.6,199.9L481.8,198.2L483.3,198.1L481.0,195.7L483.9,195.6L488.8,194.8L493.9,193.3L495.0,192.2L498.8,192.5L500.7,195.4L505.3,195.6L505.7,197.0L507.6,196.9L511.3,194.5L510.9,195.3L514.7,197.4L521.9,203.5L522.5,202.4L524.8,203.7L528.3,203.1L533.5,206.6L536.5,206.1L538.5,207.9L538.5,207.9L536.1,209.7L537.0,213.1L531.8,212.7L532.1,217.0L528.0,218.6L531.4,223.1L531.0,225.6L531.0,225.6L528.4,224.0L523.6,223.7L521.0,224.0L517.5,222.9L516.7,224.8L511.6,224.0L511.6,225.5L511.6,225.5L510.2,227.7L508.3,227.7L506.7,229.2L506.2,228.4L503.5,228.3L501.3,226.1L500.8,223.5L497.7,221.7L491.8,222.2L489.3,219.9L483.0,217.0L478.3,218.4L480.8,227.9L480.8,227.9L479.6,228.0L477.5,226.0L475.9,225.2L473.9,225.8L473.0,226.8L469.9,222.2L465.9,218.4Z"/><path id="p4_30" d="M531.0,225.6L531.0,225.6L528.2,227.7L525.1,228.7L523.7,230.2L521.2,230.1L519.6,231.8L519.5,232.7L516.1,233.0L512.9,232.3L510.2,232.6L509.9,231.4L512.4,231.3L512.4,230.6L514.8,230.9L517.1,229.5L515.6,228.7L513.7,227.4L512.5,228.2L510.5,227.3L511.6,225.5L511.6,225.5L511.6,224.0L516.7,224.8L517.5,222.9L521.0,224.0L523.6,223.7L528.4,224.0L531.0,225.6Z"/><path id="p4_31" d="M497.3,257.7L499.0,255.1L498.5,253.7L496.6,253.4L495.3,249.8L495.7,248.2L494.9,248.0L494.5,246.6L495.6,245.3L495.4,242.7L497.8,243.5L499.2,242.1L502.0,240.9L503.8,238.3L505.7,238.2L508.6,238.6L509.1,239.1L511.9,238.8L513.5,237.7L513.3,236.2L515.5,235.8L516.3,236.7L516.8,239.7L519.0,239.1L521.3,238.0L523.8,238.4L523.3,239.0L520.0,239.5L517.4,240.5L516.7,241.6L518.1,243.8L517.5,246.0L517.8,246.8L515.3,246.9L516.4,248.6L514.8,249.4L515.0,252.4L512.5,252.7L510.0,254.0L509.0,255.0L509.5,257.6L504.7,259.1L501.2,258.9Z"/><path id="p4_32" d="M539.2,207.7L540.9,206.9L542.4,206.3L544.2,204.6L546.6,203.6L550.6,204.2L552.8,205.8L557.6,206.3L558.6,204.4L556.7,202.0L557.5,200.4L565.2,202.4L566.4,204.1L570.0,205.4L572.8,204.5L576.4,205.1L580.7,207.3L585.4,207.8L589.1,206.9L590.9,205.0L596.4,206.0L596.6,210.3L598.1,211.1L601.2,211.6L602.9,210.7L607.6,214.0L604.5,213.9L601.6,215.0L599.7,217.3L597.7,219.0L593.8,218.2L593.7,220.0L595.6,221.7L593.9,224.4L588.1,224.9L583.9,227.1L576.8,225.6L572.1,224.4L564.5,224.2L560.4,220.3L555.9,218.5L550.1,217.7L548.1,214.3L548.4,213.5L545.3,211.1L540.4,209.2Z"/><path id="p4_33" d="M571.4,281.6L571.8,280.1L571.6,278.4L572.6,277.7L572.4,273.0L574.3,273.4L575.1,270.4L575.7,267.8L575.1,266.2L577.2,264.4L579.3,264.9L578.6,263.6L579.2,261.9L581.4,263.6L582.7,263.9L583.6,268.1L581.8,270.7L581.9,273.2L585.3,275.1L586.4,277.9L588.9,279.7L591.0,279.4L589.2,282.6L587.9,283.2L586.7,284.1L584.6,284.0L584.5,287.3L583.6,287.3L585.5,290.0L587.3,293.9L586.7,296.3L589.4,299.9L589.7,302.8L590.8,304.9L589.2,308.7L588.8,309.6L586.5,310.9L584.3,299.1L581.7,296.5L576.0,296.5L569.8,283.5Z"/><mask id="m4" maskUnits="userSpaceOnUse" x="0" y="0" width="850" height="600"><rect width="850" height="600" fill="#000"/><use href="#p4_0" fill="#fff"/><use href="#p4_1" fill="#fff"/><use href="#p4_2" fill="#fff"/><use href="#p4_3" fill="#fff"/><use href="#p4_4" fill="#fff"/><use href="#p4_5" fill="#fff"/><use href="#p4_6" fill="#fff"/><use href="#p4_7" fill="#fff"/><use href="#p4_8" fill="#fff"/><use href="#p4_9" fill="#fff"/><use href="#p4_10" fill="#000"/><use href="#p4_11" fill="#000"/><use href="#p4_12" fill="#000"/><use href="#p4_13" fill="#000"/><use href="#p4_14" fill="#000"/><use href="#p4_15" fill="#000"/><use href="#p4_16" fill="#000"/><use href="#p4_17" fill="#000"/><use href="#p4_18" fill="#000"/><use href="#p4_19" fill="#000"/><use href="#p4_20" fill="#000"/><use href="#p4_21" fill="#000"/><use href="#p4_22" fill="#000"/><use href="#p4_23" fill="#000"/><use href="#p4_24" fill="#000"/><use href="#p4_25" fill="#000"/><use href="#p4_26" fill="#000"/><use href="#p4_27" fill="#000"/><use href="#p4_28" fill="#000"/><use href="#p4_29" fill="#000"/><use href="#p4_30" fill="#000"/><use href="#p4_31" fill="#000"/><use href="#p4_32" fill="#000"/><use href="#p4_33" fill="#000"/></mask>
</defs>
<use href="#o1" fill="#8fc3de"/>
<g clip-path="url(#c1)" stroke-width="0.45">
<use href="#p1_0" fill="#fff"/>
<use href="#p1_0" fill="url(#h)" stroke="#cfcfcf"/>
<use href="#p1_1" fill="#878787" stroke="#555555"/>
<use href="#p1_2" fill="#878787" stroke="#555555"/>
<path d="M127.8,158.8L103.5,180.3L106.5,180.8L106.6,183.6L112.4,181.5L113.0,184.8L112.1,189.2L114.2,190.7L111.9,193.1L110.7,193.6M114.0,208.2L170.7,208.2L171.2,207.2L171.4,208.9L174.5,209.2L178.1,210.2L180.9,210.7L183.5,209.9L189.0,213.5L189.4,214.5L190.9,215.8L192.3,217.6L191.3,222.0L189.8,223.8L187.9,225.6L188.7,226.9L197.0,224.0L197.5,222.8L198.8,222.0L203.4,220.9L207.4,218.4L214.7,218.4L216.4,217.6L218.0,216.1L219.3,214.0L221.6,212.1L223.3,212.4L224.1,213.0L223.0,216.3L223.3,217.9L223.9,218.6M105.4,250.8L110.8,250.3L110.4,250.8L117.7,254.0L123.9,254.0L124.3,252.7L128.1,252.7L130.4,255.8L130.8,258.4L133.3,260.0L135.4,257.9L137.8,257.9L139.2,262.1L140.6,263.9L140.8,266.8L144.9,267.9M165.9,306.8L167.7,307.1L169.7,307.6L170.6,307.2" fill="none" stroke="#506a78"/>
<path d="M162.6,301.8L164.1,301.0L165.6,299.1L168.3,297.6L169.7,297.4L172.5,296.5M158.3,298.0L160.1,299.3L161.7,299.4L161.8,300.7" fill="none" stroke="#cfcfcf"/>
</g>
<use href="#o1" fill="none" stroke="#3c3c3c" stroke-opacity="0.5" stroke-width="0.4"/>
<g mask="url(#m1)" fill="none"><use href="#o1" stroke="#fff" stroke-width="1.1"/><use href="#o1" stroke="#cfcfcf" stroke-width="0.5"/></g>
<path d="M254.6,141.2L265.0,137.9L271.1,135.8L279.3,134.5L291.0,133.8L300.9,133.3L311.1,132.3L317.9,132.1L325.8,132.5L332.2,133.8L337.3,135.3L345.7,135.3L339.6,137.5L336.2,139.7L334.1,142.6L334.2,145.5L331.4,147.5L330.2,149.6L327.4,151.6L326.9,153.8L325.4,157.0L324.4,158.1L318.7,160.9L311.7,162.3L305.9,164.7L302.0,166.3L296.3,167.9L292.4,169.3L289.5,172.7L285.7,176.3L283.7,179.8L281.3,181.5L278.2,179.6L274.3,177.9L272.6,175.1L271.3,171.6L271.0,168.1L270.7,164.7L273.1,161.4L277.5,159.2L273.0,158.1L273.3,155.9L273.3,152.7L272.7,149.6L272.3,146.5L267.9,145.1L260.0,145.5L257.0,144.5L255.9,143.2ZM320.1,168.1L323.7,166.1L325.9,168.1L327.8,167.0L331.3,166.8L334.9,165.8L337.0,167.0L338.7,168.8L336.4,170.9L332.3,172.3L328.6,173.0L325.2,172.0L322.2,172.0L323.7,170.4L320.4,169.5L323.2,168.8ZM193.3,287.8L194.0,286.9L197.6,287.4L198.1,287.1L197.3,285.3L196.2,283.7L199.3,283.7L199.8,284.3L199.8,286.1L199.0,287.1L199.4,288.6L197.7,288.2ZM209.8,287.4L213.5,287.6L213.1,288.7L209.7,288.8ZM221.6,293.1L223.0,292.7L222.2,294.0ZM222.2,295.0L222.7,295.2L222.4,296.0ZM222.7,296.9L223.5,297.3L223.1,298.1ZM222.9,298.9L223.2,299.4L222.9,299.9ZM226.0,301.0L226.4,301.4L226.1,301.6ZM221.0,303.8L221.3,304.0L221.1,304.4ZM220.5,307.8L222.8,307.5L222.4,309.3L220.4,309.5Z" fill="url(#h)" stroke="#cfcfcf" stroke-width="0.45"/>
<path d="M243.9,176.7L238.6,174.8L234.3,172.7L231.3,170.4L225.2,170.2L224.9,169.3L233.5,168.1L235.7,165.8L238.8,163.6L235.7,161.8L233.8,159.6L231.5,158.1L226.4,158.3L221.9,157.6L217.5,157.0L215.9,155.9L217.9,152.7L222.0,150.0L226.7,150.0L227.6,151.6L224.2,154.8L232.8,150.2L234.3,150.4L237.8,151.9L240.6,150.4L236.1,150.1L240.9,152.1L242.5,154.2L245.7,155.5L248.8,157.0L250.0,159.2L249.9,160.7L253.7,162.9L256.7,165.4L253.8,167.7L249.8,168.6L246.1,165.8L248.0,170.4L248.6,172.7L246.1,174.1L241.6,172.5ZM168.9,154.8L174.7,151.9L181.3,151.0L186.7,151.9L191.6,151.0L194.9,151.6L191.6,154.8L194.4,157.0L193.3,159.2L187.3,161.1L180.8,160.9L171.9,161.4L168.0,160.3L167.7,158.1L174.2,157.4L178.0,157.0L170.0,156.8L168.5,155.9ZM160.1,153.3L165.9,150.0L172.5,148.5L178.0,149.2L178.9,151.0L172.7,152.9L167.0,155.0L161.3,155.7ZM181.3,147.1L187.6,144.7L195.2,144.7L200.1,145.7L197.9,147.5L191.2,147.9L184.8,148.7ZM174.3,145.5L184.0,143.0L188.8,142.8L184.3,144.9L178.3,145.9ZM204.8,144.3L213.9,144.3L212.2,146.5L207.2,147.5L201.9,146.7ZM214.0,146.3L221.9,143.9L228.2,143.7L228.7,144.7L237.8,144.7L239.9,146.5L236.8,148.3L228.0,148.5L219.8,148.1ZM227.1,144.7L233.1,142.0L233.1,140.7L239.6,138.8L238.8,137.0L235.2,135.3L243.6,134.2L253.3,133.0L267.1,132.8L277.2,133.8L277.2,134.5L270.8,136.2L266.2,137.3L259.8,138.8L253.1,139.7L249.8,141.6L245.0,143.5L240.5,145.1L234.7,144.7ZM226.7,141.0L224.4,138.2L232.0,135.7L236.0,137.0L236.7,138.8L232.1,140.9ZM207.6,141.0L214.5,139.2L216.7,140.3L212.2,142.0L208.0,141.8ZM198.0,153.3L204.8,149.8L208.1,150.4L206.7,152.7L202.6,155.3L199.4,154.4ZM208.7,153.1L210.3,150.6L215.5,149.4L219.6,150.0L218.5,152.1L212.9,153.8L210.5,153.8ZM195.6,160.3L201.5,158.3L202.5,160.0L199.7,161.4L196.4,161.4ZM208.9,171.1L214.1,167.2L217.3,167.7L219.4,171.1L220.0,172.3L216.7,172.5L212.7,174.6L210.0,173.2ZM242.1,211.7L245.1,207.9L248.4,203.9L252.5,201.6L250.1,205.1L251.3,205.9L254.7,207.4L255.3,209.4L255.2,212.0L253.6,214.3L252.1,212.2L249.5,213.5L248.6,211.7ZM107.3,203.6L111.8,205.6L112.8,209.7L110.5,209.2L109.2,207.2L106.8,205.4ZM104.2,195.4L106.7,195.6L104.2,200.1L103.1,198.6ZM70.6,187.3L75.4,185.8L75.8,186.8L71.6,188.5ZM233.3,205.9L238.2,207.4L235.7,207.7ZM57.5,172.5L61.4,173.2L58.7,173.7ZM54.9,180.5L58.1,180.3L56.1,181.5ZM60.5,160.4L62.4,161.8L64.0,163.6L66.1,164.5L68.6,165.2L68.4,166.8L65.2,167.9L61.5,168.6L58.3,170.6L56.2,170.9L54.3,169.7L54.5,168.3L51.3,168.1L52.8,166.5L50.4,167.0L47.4,169.0L60.5,160.4ZM69.6,154.8L72.8,154.8L72.2,155.7L67.4,156.1ZM170.8,278.5L174.3,275.9L177.1,275.1L181.1,275.4L184.3,276.9L187.5,278.8L191.3,280.9L194.4,282.9L191.4,283.7L186.4,283.7L187.8,281.9L185.0,280.3L181.8,279.0L177.9,277.7L173.3,278.0ZM199.8,284.3L200.0,283.9L203.8,284.0L205.5,285.3L207.3,287.1L205.7,287.6L203.4,287.9L201.1,288.7L200.1,289.7L199.4,288.6L199.0,287.1L199.8,286.1Z" fill="#8fc3de" stroke="#506a78" stroke-width="0.45"/>
<path d="M184.4,287.6L187.6,287.4L189.3,288.7L186.9,289.5L184.5,288.4ZM187.0,266.0L190.0,265.5L190.2,267.0L189.3,267.3L189.0,266.4L186.9,266.5ZM187.1,269.9L187.9,270.2L188.0,272.5L187.0,272.2Z" fill="#878787" stroke="#555555" stroke-width="0.45"/>
<use href="#o2" fill="#8fc3de"/>
<g clip-path="url(#c2)" stroke-width="0.45">
<use href="#p2_0" fill="#fff"/>
<use href="#p2_0" fill="url(#h)" stroke="#cfcfcf"/>
<use href="#p2_1" fill="#fff"/>
<use href="#p2_1" fill="url(#h)" stroke="#cfcfcf"/>
<use href="#p2_2" fill="#878787" stroke="#555555"/>
<use href="#p2_3" fill="#878787" stroke="#555555"/>
<use href="#p2_4" fill="#878787" stroke="#555555"/>
<use href="#p2_5" fill="#878787" stroke="#555555"/>
<use href="#p2_6" fill="#878787" stroke="#555555"/>
<use href="#p2_7" fill="#fff"/>
<use href="#p2_7" fill="url(#h)" stroke="#cfcfcf"/>
<path d="M201.3,346.7L199.3,346.7L194.6,349.3L194.0,352.7L192.3,355.0L194.7,359.2L196.7,361.8L200.3,360.5L200.5,364.4L202.9,364.3M222.6,322.1L224.3,322.6L224.5,324.2L225.1,325.8L224.4,329.4L226.4,332.2L228.7,331.8L230.3,330.6L232.2,330.6M204.4,381.8L202.6,383.6" fill="none" stroke="#506a78"/>
<path d="M199.1,304.8L196.2,306.7L194.9,310.1L195.8,313.5L196.8,317.2L201.2,317.4L202.7,319.8L207.1,319.5L206.3,321.9L206.2,323.9L207.4,326.8L206.1,328.4L207.5,329.7L208.3,332.5M180.6,332.0L183.3,333.6L184.0,334.7L186.5,334.7L188.8,336.1" fill="none" stroke="#555555"/>
</g>
<use href="#o2" fill="none" stroke="#3c3c3c" stroke-opacity="0.5" stroke-width="0.4"/>
<g mask="url(#m2)" fill="none"><use href="#o2" stroke="#fff" stroke-width="1.1"/><use href="#o2" stroke="#cfcfcf" stroke-width="0.5"/></g>
<path d="M198.2,308.0L199.2,309.6L198.2,311.7L197.1,310.6Z" fill="#fff" stroke="#999" stroke-width="0.4"/>
<path d="M227.8,472.3L230.3,478.0L233.2,480.0L229.1,479.2L225.7,478.3L223.2,477.0L224.6,475.8L225.1,474.8L224.8,473.0L226.1,472.0ZM206.4,445.3L207.7,444.8L209.1,448.9L207.1,448.6Z" fill="#878787" stroke="#555555" stroke-width="0.45"/>
<path d="M227.8,472.3L229.3,474.0L231.1,475.5L234.1,477.0L236.5,477.4L234.5,478.5L230.3,478.0Z" fill="url(#h)" stroke="#cfcfcf" stroke-width="0.45"/>
<use href="#o3" fill="#878787"/>
<g clip-path="url(#c3)" stroke-width="0.45">
<use href="#p3_0" fill="#fff"/>
<use href="#p3_0" fill="url(#h)" stroke="#cfcfcf"/>
<use href="#p3_1" fill="#fff"/>
<use href="#p3_1" fill="url(#h)" stroke="#cfcfcf"/>
<use href="#p3_2" fill="#fff"/>
<use href="#p3_2" fill="url(#h)" stroke="#cfcfcf"/>
<use href="#p3_3" fill="#fff"/>
<use href="#p3_3" fill="url(#h)" stroke="#cfcfcf"/>
<use href="#p3_4" fill="#fff"/>
<use href="#p3_4" fill="url(#h)" stroke="#cfcfcf"/>
<use href="#p3_5" fill="#fff"/>
<use href="#p3_5" fill="url(#h)" stroke="#cfcfcf"/>
<use href="#p3_6" fill="#fff"/>
<use href="#p3_6" fill="url(#h)" stroke="#cfcfcf"/>
<use href="#p3_7" fill="#fff"/>
<use href="#p3_7" fill="url(#h)" stroke="#cfcfcf"/>
<use href="#p3_8" fill="#fff"/>
<use href="#p3_8" fill="url(#h)" stroke="#cfcfcf"/>
<use href="#p3_9" fill="#8fc3de" stroke="#506a78"/>
<use href="#p3_10" fill="#8fc3de" stroke="#506a78"/>
<use href="#p3_11" fill="#8fc3de" stroke="#506a78"/>
<use href="#p3_12" fill="#8fc3de" stroke="#506a78"/>
<use href="#p3_13" fill="#8fc3de" stroke="#506a78"/>
<use href="#p3_14" fill="#8fc3de" stroke="#506a78"/>
<use href="#p3_15" fill="#8fc3de" stroke="#506a78"/>
<use href="#p3_16" fill="#fff"/>
<use href="#p3_16" fill="url(#h)" stroke="#cfcfcf"/>
<use href="#p3_17" fill="#fff"/>
<use href="#p3_17" fill="url(#h)" stroke="#cfcfcf"/>
<use href="#p3_18" fill="#fff"/>
<use href="#p3_18" fill="url(#h)" stroke="#cfcfcf"/>
<use href="#p3_19" fill="#8fc3de" stroke="#506a78"/>
<use href="#p3_20" fill="#878787" stroke="#555555"/>
<use href="#p3_21" fill="#8fc3de" stroke="#506a78"/>
<path d="M333.1,263.4L343.2,263.4M350.0,292.6L350.4,293.1L349.7,295.2L341.3,295.2L338.1,295.5L336.3,295.0L335.5,296.8L334.6,297.2L336.4,303.3L338.0,304.4L341.2,303.3L342.8,306.2L344.1,309.1M334.6,297.2L333.0,295.9L331.9,293.8L329.9,292.4L328.3,292.2L326.0,292.6L325.0,293.8M324.2,303.4L327.0,302.7L331.1,302.7L331.1,303.6L336.4,303.3M324.0,301.5L327.3,300.8L329.8,301.1L330.8,300.6L329.1,300.1L327.0,300.2L324.5,300.2M328.1,307.1L329.3,305.4L331.1,305.1L331.1,302.7M331.9,312.1L333.8,309.8L336.8,309.6L338.1,311.9L338.8,313.5L340.7,313.8L341.0,315.9L342.9,315.9M372.1,285.7L372.2,291.6L370.5,295.5L365.5,295.7L363.0,296.7L360.9,296.4L357.9,298.6L355.9,299.1L352.7,301.2L350.6,304.6L349.8,308.5M363.0,296.7L363.4,299.1L364.8,300.7L364.8,302.0L367.3,303.3L368.0,304.6L365.7,305.8L364.6,307.0L362.5,306.7L360.9,307.1L356.0,307.0L356.3,310.9M362.5,306.7L363.3,308.8L363.4,310.9L363.9,314.0L363.8,316.4L364.0,317.7L365.3,319.8M364.6,307.0L365.7,309.6L366.2,312.2L366.2,317.7L366.3,319.5M368.0,304.6L370.8,305.1L371.2,308.0L369.6,311.9L368.7,315.1L368.7,319.1M370.8,305.1L370.9,303.1L371.9,300.4L375.1,299.4L378.1,301.5L380.8,301.0L384.3,302.3L387.0,300.8L391.1,301.5L393.6,299.9L394.7,301.5M393.6,299.9L393.4,297.8L397.8,291.6L397.6,283.5L398.7,282.4L396.6,280.1L396.3,275.6M396.3,275.6L394.5,276.7L389.4,274.3M396.3,275.6L398.4,274.5L416.9,284.8M383.5,256.6L385.1,254.7L385.2,252.9L387.8,251.1L387.8,249.1M398.0,316.1L400.2,315.6L401.1,316.0L403.2,314.9L405.3,314.7L406.4,312.2L409.4,311.9L412.3,308.0L415.0,307.1M425.7,322.5L420.8,322.6L418.7,322.4L415.3,323.2L414.1,325.0L410.0,324.2L407.9,322.4L405.4,324.5L405.4,326.6M399.9,330.0L400.8,326.6L405.4,326.6L404.2,329.7L403.6,334.9L403.3,337.0L399.9,340.9L399.8,344.6L395.7,348.4L395.7,346.9L393.4,348.4L392.7,347.7L392.0,347.2L390.1,348.8M393.2,330.0L393.2,332.4L395.3,332.0L395.9,333.3L394.6,335.7L395.9,337.3L395.7,340.7L395.0,342.0L391.3,341.8L389.3,341.7L389.9,344.8L388.1,345.9M388.7,330.0L388.7,333.1L384.6,333.1M390.7,351.6L392.7,351.0L400.7,351.1L401.4,354.5L407.1,354.0L407.3,356.3L412.7,354.8L412.8,360.8L413.6,364.9L417.6,364.2M433.6,326.6L433.5,329.4L434.7,330.1L431.7,333.6L430.8,337.0L430.8,339.2M440.9,324.7L439.7,325.9L437.2,325.9L435.8,325.8L433.6,326.6M430.8,339.2L432.8,338.5L440.7,338.3M389.2,380.7L392.1,380.1L394.4,381.1L404.6,381.1L411.2,382.7L415.5,382.7M412.7,378.0L411.2,382.7M446.0,298.4L448.4,298.4L450.4,298.1L451.8,297.6L454.4,298.0L456.3,299.5L459.6,303.1L461.2,302.5M459.6,303.1L458.2,305.7L458.4,307.1L461.0,307.0L461.7,305.8M345.1,324.3L345.2,320.6L343.4,319.0L342.9,315.9M336.0,317.7L337.9,315.3L338.8,313.5" fill="none" stroke="#555555"/>
</g>
<use href="#o3" fill="none" stroke="#3c3c3c" stroke-opacity="0.5" stroke-width="0.4"/>
<g mask="url(#m3)" fill="none"><use href="#o3" stroke="#fff" stroke-width="1.1"/><use href="#o3" stroke="#cfcfcf" stroke-width="0.5"/></g>
<path d="M475.5,367.0L476.7,369.6L477.8,375.7L477.7,377.2L475.9,376.2L475.5,379.6L474.8,383.0L473.1,387.9L471.6,392.6L469.6,397.3L468.0,401.0L464.5,402.4L463.7,402.6L461.3,401.0L460.8,396.8L460.1,393.7L461.6,390.5L462.9,387.9L463.3,385.3L462.6,381.4L463.8,378.0L466.3,377.2L468.1,376.7L470.3,374.6L472.0,372.5L473.0,370.7L474.4,368.3Z" fill="#878787" stroke="#555555" stroke-width="0.45"/>
<path d="M492.6,387.9L493.4,388.5L492.9,389.2L492.2,389.0Z" fill="#8fc3de" stroke="#506a78" stroke-width="0.45"/>
<use href="#o4" fill="#8fc3de"/>
<g clip-path="url(#c4)" stroke-width="0.45">
<use href="#p4_0" fill="#fff"/>
<use href="#p4_0" fill="url(#h)" stroke="#cfcfcf"/>
<use href="#p4_1" fill="#fff"/>
<use href="#p4_1" fill="url(#h)" stroke="#cfcfcf"/>
<use href="#p4_2" fill="#fff"/>
<use href="#p4_2" fill="url(#h)" stroke="#cfcfcf"/>
<use href="#p4_3" fill="#fff"/>
<use href="#p4_3" fill="url(#h)" stroke="#cfcfcf"/>
<use href="#p4_4" fill="#fff"/>
<use href="#p4_4" fill="url(#h)" stroke="#cfcfcf"/>
<use href="#p4_5" fill="#fff"/>
<use href="#p4_5" fill="url(#h)" stroke="#cfcfcf"/>
<use href="#p4_6" fill="#fff"/>
<use href="#p4_6" fill="url(#h)" stroke="#cfcfcf"/>
<use href="#p4_7" fill="#fff"/>
<use href="#p4_7" fill="url(#h)" stroke="#cfcfcf"/>
<use href="#p4_8" fill="#fff"/>
<use href="#p4_8" fill="url(#h)" stroke="#cfcfcf"/>
<use href="#p4_9" fill="#fff"/>
<use href="#p4_9" fill="url(#h)" stroke="#cfcfcf"/>
<use href="#p4_10" fill="#878787" stroke="#555555"/>
<use href="#p4_11" fill="#878787" stroke="#555555"/>
<use href="#p4_12" fill="#8fc3de" stroke="#506a78"/>
<use href="#p4_13" fill="#878787" stroke="#555555"/>
<use href="#p4_14" fill="#878787" stroke="#555555"/>
<use href="#p4_15" fill="#878787" stroke="#555555"/>
<use href="#p4_16" fill="#878787" stroke="#555555"/>
<use href="#p4_17" fill="#878787" stroke="#555555"/>
<use href="#p4_18" fill="#878787" stroke="#555555"/>
<use href="#p4_19" fill="#878787" stroke="#555555"/>
<use href="#p4_20" fill="#878787" stroke="#555555"/>
<use href="#p4_21" fill="#878787" stroke="#555555"/>
<use href="#p4_22" fill="#878787" stroke="#555555"/>
<use href="#p4_23" fill="#878787" stroke="#555555"/>
<use href="#p4_24" fill="#878787" stroke="#555555"/>
<use href="#p4_25" fill="#878787" stroke="#555555"/>
<use href="#p4_26" fill="#878787" stroke="#555555"/>
<use href="#p4_27" fill="#8fc3de" stroke="#506a78"/>
<use href="#p4_28" fill="#878787" stroke="#555555"/>
<use href="#p4_29" fill="#878787" stroke="#555555"/>
<use href="#p4_30" fill="#8fc3de" stroke="#506a78"/>
<use href="#p4_31" fill="#878787" stroke="#555555"/>
<use href="#p4_32" fill="#878787" stroke="#555555"/>
<use href="#p4_33" fill="#878787" stroke="#555555"/>
<path d="M343.9,226.4L345.3,225.8L348.6,226.2L349.4,227.1L347.9,228.7L347.8,230.8L347.6,232.1L346.5,232.2L347.6,233.6L346.9,235.4L347.5,236.0L346.4,237.8L346.6,238.6M358.7,222.5L359.6,223.4L361.0,223.9L364.0,224.0L365.5,224.6L366.1,224.8L369.2,225.0M378.1,221.5L378.5,220.7L376.8,219.9L377.0,217.9L376.5,216.3L376.9,216.1M376.9,216.1L375.0,215.3L375.0,214.4L376.8,212.5L377.9,211.9L379.9,211.2L381.9,212.0M376.9,216.1L378.7,215.9L379.7,214.8L381.0,216.2L381.6,214.7L383.2,215.2L383.9,213.6M377.9,211.9L377.9,210.5L379.0,208.2L375.3,207.0L374.0,206.8L372.2,206.1L370.9,205.6L368.9,203.7L367.6,202.9M374.7,205.3L375.3,204.8L374.6,203.7M390.1,195.9L390.6,197.5L390.2,198.5L391.3,199.2L391.6,200.5L391.3,201.1L392.3,202.4L392.2,203.5M400.4,206.9L401.5,206.6L403.0,207.7L404.7,207.2L407.9,207.9M396.8,209.2L397.3,210.7L398.7,211.3L400.6,211.1L402.9,210.3L403.9,209.3L407.3,209.7M395.4,213.6L396.3,214.5L398.8,215.9L401.3,216.1M404.1,215.6L406.0,214.8L407.3,212.0L409.0,210.7M390.6,214.5L390.0,215.3L390.5,216.3L390.8,216.7M390.4,217.1L392.2,217.1L394.0,217.2L394.7,216.2L396.3,214.5M402.7,222.2L401.6,223.0L401.2,224.7M402.7,222.2L405.1,223.9L404.6,224.7L403.7,224.7L403.3,226.5M409.2,201.9L409.1,200.4L408.2,199.9L409.3,198.1L408.2,195.7L406.7,194.8L400.5,194.5M408.2,195.7L411.9,194.9L412.2,193.4L413.6,192.4L413.4,191.4L416.2,190.3M402.7,190.5L404.6,189.7L409.9,189.6L413.4,191.4M408.3,186.1L410.0,185.8L412.4,186.9L414.0,186.9M414.4,182.3L413.5,183.9L414.0,185.3L414.0,186.9L415.0,187.5L415.0,188.7L416.2,190.3L418.7,190.8L421.7,191.7L421.9,193.6L423.2,195.1L426.3,197.0L423.9,197.6L425.2,200.4M406.7,194.8L406.4,193.4L403.4,192.5L402.9,192.4M413.4,179.7L415.8,177.9L418.6,175.1L418.9,174.1L415.8,172.2L416.1,169.5L414.2,167.9L414.9,167.7L412.5,165.1L413.6,163.1L410.5,161.3L411.0,160.1L413.8,158.5M404.5,167.4L403.4,166.3L403.8,165.2L402.7,163.7L402.6,162.6L399.2,161.1L397.0,160.1M383.2,183.3L384.4,182.9L384.0,181.2L385.5,180.8L384.8,178.6L385.9,177.8L384.8,177.0L384.2,173.9L385.0,171.6L387.4,170.5L386.5,170.2L387.8,168.6L387.6,166.6L389.2,166.3L390.5,163.6L393.1,161.3L396.3,161.6L397.0,160.1L398.6,159.6L400.2,160.9L402.3,160.8L404.6,161.0L405.5,159.6L406.5,158.2L408.9,158.0L411.4,159.2L411.0,160.1M379.2,193.4L380.7,193.5M538.5,207.9L539.2,207.7M596.4,206.0L599.1,206.9L600.8,205.1L599.7,199.1L596.9,197.4L603.4,196.7L608.3,198.0L617.2,204.9L626.1,208.4L628.8,211.5L634.7,209.7L636.4,211.5L637.5,218.1L634.5,217.6L633.7,218.9L636.4,222.2L636.6,224.9L637.0,225.3M627.0,231.4L628.2,229.6L629.8,226.8L632.9,227.7L632.4,226.1L634.7,224.9L636.6,224.9M633.5,237.1L634.5,236.6L634.9,235.7L637.2,234.9M606.5,279.6L605.1,279.2L602.8,275.9L599.6,274.9L598.7,276.2L594.8,277.1L592.9,277.1M592.9,277.1L592.1,277.1M597.5,319.4L595.3,320.8L594.9,319.4L593.0,319.0M602.9,298.2L598.0,298.5L597.0,300.2L597.3,302.8L598.4,305.4M602.3,308.5L603.6,307.1L605.3,307.0L606.4,305.1L608.9,303.6L608.2,297.3L608.2,296.5L607.5,293.8L605.1,291.3L601.4,286.9L598.3,284.4L599.3,282.4L597.8,281.1L594.9,279.0L592.9,277.1M579.2,261.9L575.9,258.9L574.4,259.8L572.4,259.2L569.5,261.8L567.8,263.1L566.7,263.1M566.7,263.1L567.4,265.7L564.3,265.6L563.2,266.0L561.1,265.5L560.7,264.4L562.0,262.1L563.8,262.3L566.7,263.1M560.7,264.4L560.2,262.4L558.9,262.8M541.8,256.8L539.8,255.8L536.8,254.5L535.9,253.4L535.5,250.6L536.9,250.2L534.3,246.9L533.1,245.3L531.3,243.0M637.0,225.3L636.4,225.3M489.0,270.5L488.2,270.5L488.0,273.0L487.0,276.4" fill="none" stroke="#506a78"/>
<path d="M480.8,227.9L479.6,228.0L477.5,226.0L475.9,225.2L473.9,225.8L473.0,226.8M480.8,227.9L482.9,227.9L482.6,226.1L485.1,224.3L488.6,225.6L489.3,227.7L493.4,228.4L495.4,231.3L499.7,234.0L503.1,235.7L505.5,236.5L505.7,238.2M478.5,238.2L480.4,237.9L482.6,236.2L485.1,235.8L488.3,237.4L490.1,237.8L492.7,240.0L494.6,240.0L495.4,242.7M509.1,239.1L509.1,236.5L507.8,234.1L507.0,233.5L506.1,232.6L508.5,232.5L508.2,230.9L509.2,229.2L511.4,228.7L512.5,229.5L511.9,230.2L512.4,230.6M497.3,257.7L499.6,260.5L502.2,261.9L502.7,264.5L503.8,264.8L503.8,266.1L501.9,266.8L500.9,267.3L500.7,269.9M461.9,234.1L464.3,232.1L465.5,233.0L465.1,234.4L467.3,235.4M440.8,245.2L442.3,246.4L441.3,248.2L441.0,248.7M440.7,250.3L443.4,251.4L447.4,248.5M465.8,259.7L468.6,261.1L470.1,261.1" fill="none" stroke="#cfcfcf"/>
</g>
<use href="#o4" fill="none" stroke="#3c3c3c" stroke-opacity="0.5" stroke-width="0.4"/>
<g mask="url(#m4)" fill="none"><use href="#o4" stroke="#fff" stroke-width="1.1"/><use href="#o4" stroke="#cfcfcf" stroke-width="0.5"/></g>
<path d="M459.7,218.4L462.0,215.0L465.7,213.5L469.8,213.5L471.6,215.0L471.9,217.6L468.4,217.6L468.3,219.7L466.7,219.4L468.3,221.5L469.4,222.8L472.4,224.6L473.7,226.6L474.4,228.7L477.8,227.9L477.5,229.5L475.2,231.3L476.9,232.6L476.0,233.4L478.0,236.5L478.5,238.2L478.8,239.3L474.8,240.1L472.1,239.6L470.1,238.0L469.0,237.9L467.3,235.4L467.1,233.4L467.8,232.6L468.4,230.4L469.3,230.2L467.4,229.5L465.9,227.7L464.6,226.4L464.1,226.0L461.9,223.5L461.1,221.2L459.6,219.9Z" fill="#fff" stroke="#999" stroke-width="0.4"/>
<path d="M351.1,205.5L352.3,204.8L353.6,203.1L355.8,202.6L356.5,202.6L357.2,201.6L356.2,202.0L354.6,201.6L352.4,201.4L352.0,200.9L354.4,199.4L353.2,198.6L353.5,197.2L356.4,197.4L356.6,197.0L356.6,196.0L357.0,195.3L355.5,194.4L356.5,193.3L354.0,193.9L353.1,194.0L352.7,193.4L353.5,191.9L353.1,190.8L351.5,192.4L351.8,190.7L352.0,189.7L350.7,188.9L351.5,188.2L351.6,187.0L352.0,185.8L353.2,184.3L356.3,184.2L356.8,184.3L356.7,184.7L355.0,186.2L354.6,187.0L356.3,186.5L358.7,186.5L359.1,187.0L358.6,187.9L357.7,189.2L357.5,190.0L356.4,190.7L357.7,190.7L358.7,191.3L359.4,192.4L359.8,193.1L360.4,194.1L361.3,194.4L362.3,195.4L362.7,196.6L363.2,197.9L362.7,198.4L363.5,198.2L365.0,198.3L365.9,199.1L365.9,199.5L365.6,200.5L365.1,200.7L364.4,201.2L363.9,201.9L365.3,202.2L365.2,202.8L364.4,203.4L363.0,203.8L362.2,203.6L360.9,203.8L360.3,203.6L358.7,204.1L357.6,204.3L356.6,203.8L355.7,204.1L355.2,205.1L354.2,204.8L352.1,205.7ZM348.3,192.2L350.7,192.6L351.5,194.0L351.9,194.6L350.3,195.6L350.6,197.2L350.7,198.2L350.0,200.2L348.7,200.2L346.1,201.1L343.1,202.0L342.3,201.1L341.9,200.4L343.4,199.1L343.0,199.2L344.9,197.7L342.6,197.1L342.9,195.6L343.1,194.9L345.8,194.9L346.6,194.4L345.5,193.9L346.5,192.8ZM231.3,162.0L234.4,162.5L233.9,163.8L230.9,164.0ZM213.0,174.1L215.8,173.9L216.1,174.8L213.0,175.5ZM217.8,175.5L219.1,175.8L217.9,177.0ZM378.0,138.8L381.8,137.9L386.9,137.9L391.3,138.2L390.3,140.1L394.3,141.2L390.2,142.6L388.3,144.3L385.0,143.2L382.8,141.6L379.4,140.3ZM388.2,137.5L393.8,137.0L401.1,137.7L398.8,139.2L391.4,138.8ZM394.1,140.5L398.9,141.8L396.2,143.0L393.7,141.8ZM427.2,137.0L430.3,136.3L434.6,136.5L433.7,137.2L429.5,137.3ZM457.3,156.8L452.9,156.5L449.9,155.5L446.5,154.6L446.0,153.5L446.8,152.1L446.6,150.8L449.0,150.8L448.5,148.5L449.9,146.9L453.5,145.5L458.9,144.5L463.5,143.5L466.0,143.6L463.0,144.9L457.9,146.3L455.8,147.7L453.8,149.6L452.4,151.2L452.4,153.1L454.6,155.0ZM502.5,139.7L504.7,137.0L500.5,136.0L496.1,137.0L496.5,138.4ZM510.8,141.6L516.9,140.7L513.4,139.2L507.8,139.3L507.1,140.5ZM576.0,147.5L574.9,145.3L581.3,145.5L586.4,146.7L585.7,147.7L580.8,148.1ZM589.0,146.9L595.5,147.1L596.1,147.9L591.1,147.7ZM583.3,149.8L589.4,150.2L590.1,151.2L585.5,150.8ZM653.7,155.3L655.4,154.8L657.6,156.1L655.7,156.1ZM638.7,194.8L642.9,198.1L646.3,201.9L650.4,205.6L652.8,207.7L654.8,209.1L650.4,207.7L651.8,210.7L655.5,213.8L657.0,215.6L654.5,214.0L654.4,215.9L652.3,213.3L649.9,209.4L647.0,205.6L642.7,201.4L639.5,197.4ZM655.1,217.1L658.9,219.4L662.6,220.9L664.2,220.0L666.9,222.6L664.7,223.7L664.0,226.3L660.1,224.7L658.5,225.3L657.0,224.8L659.3,226.8L658.2,227.7L655.9,224.8L655.5,222.6L657.6,222.8L657.2,221.1L655.5,218.4ZM659.7,227.4L661.0,227.7L662.7,230.0L665.0,232.3L665.2,234.1L665.0,236.0L666.4,239.1L667.9,242.5L666.7,244.6L665.9,243.0L665.0,243.8L664.9,245.3L663.7,244.3L663.5,245.3L660.9,245.3L659.8,244.3L661.1,246.1L659.5,248.3L657.6,247.2L657.2,246.4L657.2,245.3L654.4,245.5L651.3,246.0L650.8,247.2L648.4,247.0L648.1,245.9L649.9,244.6L650.4,243.1L653.8,242.9L655.6,242.3L657.4,242.5L656.9,240.9L657.6,240.1L657.9,237.8L657.8,238.8L658.7,239.7L660.3,238.6L661.0,236.6L661.2,235.2L661.3,234.1L659.6,231.4L659.2,229.7L659.0,228.0L660.4,229.1ZM651.4,248.6L652.4,247.3L652.8,246.6L654.8,246.0L656.3,246.4L656.9,247.4L656.4,248.9L654.7,248.2L654.3,250.3L653.0,249.8L652.7,249.0ZM648.5,247.0L650.6,247.8L650.8,248.9L651.9,249.8L651.6,250.7L651.8,252.4L652.1,253.8L650.9,254.7L649.8,254.1L648.8,251.9L648.2,251.4L647.3,250.4L646.3,249.0L646.8,248.2L647.6,247.8ZM609.1,285.6L610.2,283.7L612.8,283.2L614.2,284.5L613.4,286.6L611.6,288.2L609.4,287.4ZM636.4,287.3L637.3,287.1L640.1,287.5L640.9,290.5L640.7,293.4L639.9,294.4L640.2,296.8L641.9,298.9L644.5,299.3L646.6,301.6L646.7,302.9L644.8,301.8L643.0,300.2L640.8,299.4L639.3,300.2L638.2,298.6L638.9,297.7L638.0,297.8L636.8,296.8L635.7,293.1L636.7,292.4L636.5,290.0ZM637.8,300.6L639.8,300.7L640.8,302.8L640.0,303.8L638.6,302.0ZM631.7,313.5L633.6,311.4L635.7,308.5L636.3,306.1L637.2,308.0L635.1,310.6L632.4,314.0ZM647.2,302.9L649.5,303.1L650.8,306.5L649.3,307.0L649.9,309.1L648.8,309.3L647.9,307.2L648.8,305.1ZM641.9,304.6L644.8,305.5L644.5,307.2L642.5,308.4L642.2,307.0ZM643.6,309.7L644.7,307.1L646.0,307.5L647.0,306.3L647.2,308.8L646.0,311.0L645.8,311.4L644.9,312.1ZM646.9,310.6L648.7,310.4L648.3,309.2L647.0,309.3ZM643.0,317.6L643.3,315.3L644.9,314.3L646.1,313.0L647.3,314.4L648.1,314.3L649.3,313.4L650.0,312.2L650.7,310.1L652.5,312.2L653.6,315.6L653.0,319.2L651.7,317.7L651.5,317.2L651.2,319.8L651.1,321.1L649.4,320.2L647.9,318.7L648.2,316.6L646.4,316.4L645.0,316.4ZM615.4,330.3L617.1,331.5L619.2,329.4L619.1,328.5L623.0,327.3L625.2,323.9L627.2,322.8L628.3,321.6L629.7,320.0L631.2,317.4L632.5,318.5L634.4,320.4L637.2,322.1L635.1,324.3L634.2,324.6L633.5,324.9L633.4,327.1L634.6,329.7L636.9,333.0L634.5,333.6L633.7,334.7L633.5,337.3L632.0,339.1L630.7,341.4L630.4,343.5L629.8,345.1L626.7,346.5L626.5,344.6L623.0,344.1L620.3,344.8L616.6,343.3L616.2,340.1L614.2,337.3L614.4,336.0L613.7,333.6L614.6,331.4ZM582.0,321.2L586.3,322.1L589.0,324.2L590.0,325.8L592.6,327.9L595.0,330.1L596.6,331.3L598.5,333.1L600.3,334.5L601.9,335.7L601.3,337.0L603.3,338.4L604.4,341.7L606.9,343.5L606.7,347.5L606.2,351.0L605.0,350.1L603.2,351.1L601.8,349.0L598.2,345.6L595.4,342.2L594.0,338.2L592.3,335.3L590.3,331.1L588.0,329.7L585.9,326.3L584.0,324.9L582.0,322.1ZM605.1,340.1L607.5,339.6L608.5,342.2L608.3,343.7L606.5,341.4ZM604.6,353.5L606.6,351.1L608.4,351.5L611.8,352.2L612.4,353.2L616.6,353.7L617.8,352.4L619.1,353.1L621.6,353.7L621.9,354.5L624.5,355.7L625.7,355.9L625.8,358.6L622.8,357.4L619.3,357.5L615.5,356.3L612.5,355.8L609.8,355.8L607.3,354.9ZM621.8,354.0L624.8,353.7L624.8,354.5L622.0,354.5ZM625.7,357.0L627.4,356.7L628.5,357.6L627.3,358.7ZM628.8,358.6L629.4,357.4L630.8,357.4L630.5,358.9ZM630.9,357.6L633.6,356.9L636.5,357.9L635.8,358.7L631.3,359.5ZM638.0,357.6L640.7,357.6L645.3,357.4L644.8,358.4L640.6,359.1L637.8,358.7ZM635.8,360.8L638.2,360.1L639.9,361.8L638.0,362.6ZM646.0,362.6L646.4,360.8L648.6,359.7L649.7,359.2L649.9,360.5L648.1,362.3ZM650.5,331.8L651.3,331.4L649.7,334.4L649.2,334.7L646.2,334.4L642.8,334.4L639.8,334.4L639.4,337.3L639.8,337.8L641.1,339.2L643.0,338.1L646.7,338.1L647.2,337.7L645.5,339.6L643.2,340.7L644.5,344.1L645.1,346.1L645.7,347.2L644.7,348.2L642.6,348.2L642.1,345.9L641.3,342.8L640.0,344.1L639.9,348.2L639.9,350.3L637.6,350.1L637.5,349.1L638.1,346.1L636.8,344.8L636.4,343.0L637.7,339.1L638.9,336.0L639.3,333.7L641.4,332.3L643.9,333.0L647.4,333.2ZM656.8,330.2L658.0,332.3L659.3,331.8L657.8,334.4L659.8,335.2L657.5,336.0L658.7,337.9L657.1,336.5L656.4,333.1ZM657.4,344.1L661.1,343.0L664.3,344.6L661.0,344.8L657.6,344.8ZM653.0,343.8L655.3,343.8L655.7,345.4L653.2,345.6ZM665.1,337.8L668.1,336.6L671.8,337.8L672.0,340.9L672.8,344.3L674.9,344.4L678.0,341.4L680.6,339.6L684.2,341.2L686.9,342.4L687.6,342.5L686.5,359.6L684.4,357.1L682.1,356.9L679.1,357.6L680.4,355.0L682.1,354.5L681.7,352.9L680.3,350.1L677.7,348.4L675.9,347.6L672.7,346.1L670.7,345.2L668.5,346.1L666.9,343.3L669.2,342.1L671.1,341.7L667.6,341.6L664.7,339.5ZM671.5,350.8L672.9,350.3L672.5,353.5L671.4,352.9ZM722.7,353.2L725.1,354.8L724.6,355.3L722.4,353.7ZM726.7,355.3L730.1,357.6L729.6,358.2L726.4,356.1ZM729.2,360.0L731.9,360.5L731.7,361.7L729.3,361.3ZM731.7,357.6L733.3,360.5L732.5,361.0L731.6,358.7ZM733.2,362.6L734.9,363.6L734.0,364.0L732.7,363.1ZM689.5,363.6L691.1,369.1L691.2,373.3L692.9,372.7L694.1,376.0L694.6,379.8L694.7,382.7L695.6,386.0L698.4,387.9L699.9,390.9L700.2,394.2L702.6,394.7L702.1,396.5L702.9,398.0L704.7,400.5L706.8,400.2L705.6,403.3L704.4,407.0L704.4,409.2L704.1,410.5L701.3,414.8L699.6,417.8L695.3,421.6L693.0,424.1L691.4,425.7L690.3,427.4L687.5,430.2L685.1,433.6L680.3,434.7L675.1,437.8L673.9,436.5L673.5,434.9L669.3,437.1L665.9,436.0L664.3,434.9L663.7,432.3L664.6,429.7L663.7,428.5L662.1,428.7L663.8,426.8L663.6,425.0L664.7,422.4L665.1,420.6L663.8,422.1L662.0,423.7L659.7,425.8L658.2,426.8L657.1,425.8L657.7,423.4L656.7,421.6L656.2,419.7L653.3,419.3L651.4,418.0L646.6,418.5L641.6,420.0L638.0,420.8L634.7,421.9L633.4,423.4L628.8,424.1L624.6,424.4L622.6,425.5L618.8,427.2L616.0,427.2L613.6,425.4L614.0,423.3L615.7,422.7L617.1,419.3L617.2,416.1L617.2,414.0L617.2,410.9L617.0,408.0L616.7,405.2L615.8,404.0L617.5,403.6L617.6,400.7L617.5,398.4L619.1,394.7L620.3,392.6L620.1,394.5L622.5,392.2L626.6,389.6L629.1,389.5L631.1,388.7L634.4,387.7L637.8,385.3L640.3,382.7L642.6,378.5L643.8,381.1L644.3,378.0L646.6,376.2L648.6,373.8L652.9,371.6L654.9,374.1L655.3,374.9L657.2,374.5L658.5,374.7L658.3,373.0L660.0,370.7L662.3,368.1L663.8,367.6L666.1,367.6L666.6,365.6L668.5,366.5L670.1,367.0L673.0,367.0L675.8,367.0L676.3,367.7L675.2,370.2L673.4,371.5L673.2,374.1L671.7,374.9L673.5,376.7L676.4,378.5L679.0,380.1L680.1,381.7L682.9,381.4L684.9,377.7L686.1,373.6L686.7,369.6L687.4,368.7L687.7,366.8L688.6,364.4ZM669.0,441.9L672.1,443.1L675.9,442.2L674.5,445.3L671.8,448.4L669.0,449.4L667.1,449.2L667.2,446.8L668.2,443.2ZM739.6,425.5L740.4,427.9L740.5,430.0L739.9,431.9L741.5,431.0L741.8,432.3L741.3,434.0L742.5,434.8L746.3,434.1L743.3,436.7L742.1,438.2L739.5,438.8L739.7,439.2L737.0,441.4L732.1,444.3L731.6,443.5L733.4,441.9L734.6,440.0L733.2,438.3L734.2,437.6L736.0,436.7L737.6,435.0L738.5,433.4L738.7,432.4L739.1,430.7L738.8,428.4L738.6,427.6L738.9,425.7ZM728.7,441.4L728.7,442.3L728.5,443.4L731.1,442.7L729.7,444.6L727.1,446.3L724.4,448.1L722.7,449.3L723.0,449.9L721.1,450.2L717.8,451.5L715.8,453.3L713.6,455.2L710.4,456.7L707.1,457.1L706.3,456.1L704.4,456.1L705.3,454.8L710.3,452.0L713.2,450.5L716.5,449.2L720.7,447.1L721.8,446.5L724.0,444.6L726.0,443.4L727.3,441.9ZM705.0,457.6L706.4,457.6L705.3,458.7L704.1,458.7ZM389.2,237.0L391.1,236.0L395.8,235.8L395.0,237.8L395.5,239.0L395.1,240.0L393.3,239.1L391.6,238.3L389.6,237.5ZM379.8,228.8L381.9,228.0L383.3,230.0L383.0,233.4L381.7,233.9L380.4,233.6L380.3,230.5ZM380.6,225.1L382.2,223.5L382.6,225.8L381.9,227.7L380.6,226.4ZM432.7,244.2L433.9,243.3L437.5,242.5L436.2,244.0L436.5,244.4L434.4,245.3L433.0,245.0ZM383.9,191.4L385.4,190.4L386.6,190.9L386.2,192.7L385.0,193.1L383.8,192.4ZM381.3,191.9L383.0,191.9L383.1,192.9L381.7,192.9ZM397.0,188.2L398.0,186.1L398.4,186.3L397.8,187.8ZM393.8,190.2L394.8,187.4L394.4,187.5L393.7,189.5ZM403.7,185.1L405.8,184.4L405.0,185.3L404.0,185.8ZM403.6,183.6L405.3,183.4L405.2,184.0L403.9,184.0ZM9.2,282.9L10.8,283.6L11.3,284.8L9.3,286.2L8.8,284.5ZM8.1,280.9L9.6,281.1L9.2,281.9L8.1,281.6ZM5.0,279.4L6.2,279.3L6.0,280.1L5.1,280.1ZM2.0,277.7L3.0,277.7L2.6,278.5L1.9,278.5Z" fill="#8fc3de" stroke="#506a78" stroke-width="0.45"/>
<path d="M635.1,269.6L636.3,270.4L636.0,273.0L636.0,275.4L635.4,278.5L633.8,276.7L632.9,274.3L633.5,272.0L634.1,270.3ZM649.7,359.2L650.1,358.3L654.5,357.5L655.2,357.8L653.2,359.2L649.9,360.5ZM687.6,342.5L688.3,342.8L693.5,345.0L695.6,345.8L698.3,349.3L700.5,351.0L702.8,351.4L702.9,353.1L700.8,353.3L702.0,356.1L704.0,359.2L705.9,360.8L708.8,362.5L706.7,363.5L702.3,362.3L700.5,360.5L698.2,357.4L695.6,355.8L693.7,355.8L692.2,357.6L691.5,359.5L689.9,359.7L686.5,359.6ZM704.0,350.7L708.0,348.8L711.6,346.7L713.2,346.7L713.3,348.8L710.2,351.1L706.7,352.2ZM710.2,342.5L712.9,344.3L715.3,347.7L714.3,347.5L711.8,344.3L710.0,343.0ZM718.6,349.3L720.5,351.4L721.3,353.5L719.7,352.7ZM743.1,374.3L744.3,374.9L743.7,376.7L742.7,376.2ZM744.0,377.5L745.0,378.3L744.4,379.0L743.6,378.3ZM734.0,388.2L736.9,390.3L739.4,393.7L738.1,394.2L735.4,391.8L733.8,389.2ZM765.9,381.4L768.1,381.0L768.9,382.4L767.0,383.5L765.5,383.0ZM769.1,379.6L772.7,378.0L772.4,379.0L769.7,380.1ZM308.2,295.7L309.1,295.7L308.9,296.8L308.1,296.7ZM304.9,290.8L305.8,290.9L305.6,291.7ZM306.9,292.1L307.8,292.2L307.1,292.6ZM490.0,347.6L490.5,347.7L490.4,348.2ZM461.6,365.5L462.2,365.7L462.0,366.8L461.5,366.5ZM487.6,390.3L488.7,390.5L488.2,391.5L487.5,391.1Z" fill="url(#h)" stroke="#cfcfcf" stroke-width="0.45"/>
<path d="M625.4,323.7L627.6,322.5L628.3,324.3L626.9,325.3ZM545.8,310.5L546.7,310.1L549.2,313.4L550.8,316.6L550.5,319.0L548.1,320.2L546.8,319.8L546.3,317.7L545.9,314.8L546.1,312.5ZM413.5,243.0L415.0,242.7L417.2,243.4L419.6,243.6L419.3,244.3L416.4,244.4L413.8,243.6ZM412.1,234.0L414.3,234.9L415.3,236.5L413.9,235.7L412.6,234.9ZM422.6,240.9L423.6,240.7L423.4,241.7L422.6,241.8ZM417.8,233.1L419.2,233.0L419.1,233.9L418.0,233.8Z" fill="#878787" stroke="#555555" stroke-width="0.45"/>
</svg><svg width="850" height="600" viewBox="0 0 850 600" style="position:absolute;left:0;top:0;pointer-events:none">
<rect x="332.6" y="536.9" width="48" height="11.3" fill="url(#h)" stroke="#d0d0d0" stroke-width="0.6"/>
<rect x="399.8" y="536.9" width="59" height="11.3" fill="#878787"/>
<rect x="458.8" y="536.9" width="58.7" height="11.3" fill="#8fc3de"/>
<rect x="399.8" y="536.9" width="117.7" height="11.3" fill="none" stroke="#c8c8c8" stroke-width="0.6"/>
<path d="M356.6,533.6V536.9M429.3,533.6V536.9M488.2,533.6V536.9" stroke="#bbb" stroke-width="0.8" fill="none"/>
</svg>
<div id="l1" class="t lg" style="left:332.6px">No data</div>
<div id="l2" class="t lg" style="left:420.6px">No</div>
<div id="l3" class="t lg" style="left:477.2px">Yes</div>
<div id="f1" class="t ft" style="left:16.5px;letter-spacing:-0.147px"><b style="color:#6e6e6e">Data source:</b> Data from multiple sources compiled by the UN</div>
<div id="f2" class="t ft" style="right:15.5px;letter-spacing:0.07px">OurWorldinData.org/biodiversity | CC BY</div>
</body></html>
